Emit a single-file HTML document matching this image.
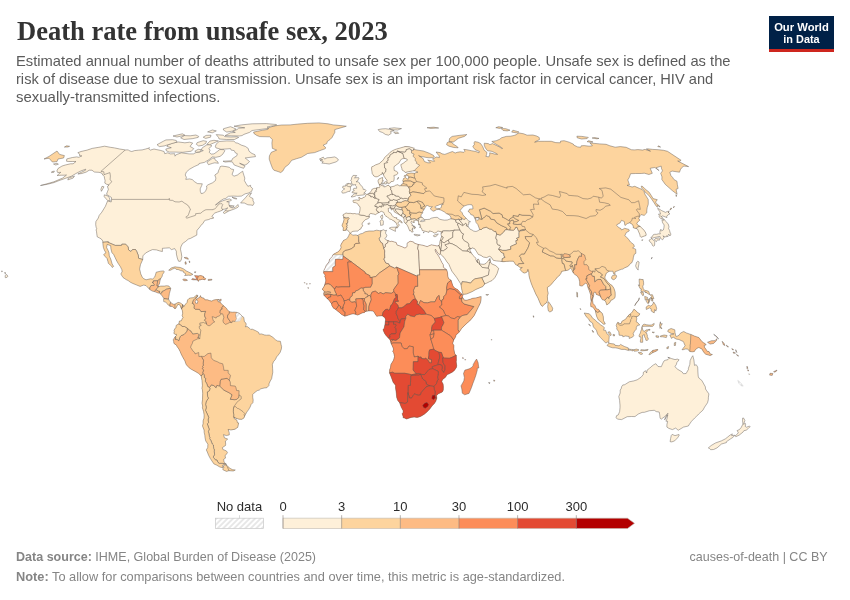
<!DOCTYPE html>
<html lang="en"><head><meta charset="utf-8"><title>Death rate from unsafe sex, 2023</title>
<style>
html,body{margin:0;padding:0;background:#fff;}
body{width:850px;height:600px;position:relative;overflow:hidden;font-family:"Liberation Sans",sans-serif;color:#5b5b5b;}
.title{position:absolute;left:16.5px;top:15.3px;font-family:"Liberation Serif",serif;font-weight:bold;font-size:27px;line-height:32px;color:#333;white-space:nowrap;transform-origin:0 50%;}
.sub{position:absolute;left:16px;top:52px;font-size:15px;line-height:18px;color:#5b5b5b;white-space:nowrap;}
.sub span{display:table;transform-origin:0 50%;}
.logo{position:absolute;left:769px;top:16px;width:65px;height:33px;background:#002147;border-bottom:3px solid #ce261e;color:#fff;font-weight:bold;font-size:11.5px;line-height:12px;}
.logo span{position:absolute;left:0;width:65px;text-align:center;white-space:nowrap;}
.foot{position:absolute;left:16px;font-size:13px;line-height:16px;color:#858585;white-space:nowrap;transform-origin:0 50%;}
.foot b{color:#858585;font-weight:bold;}
.right{position:absolute;right:22px;top:548.6px;font-size:13px;line-height:16px;color:#858585;white-space:nowrap;transform-origin:100% 50%;}
svg{position:absolute;left:0;top:0;}
</style></head><body>
<div class="title" id="title" style="transform:scaleX(0.982)">Death rate from unsafe sex, 2023</div>
<div class="sub"><span id="s1" style="transform:scaleX(0.9827)">Estimated annual number of deaths attributed to unsafe sex per 100,000 people. Unsafe sex is defined as the</span><span id="s2" style="transform:scaleX(0.9758)">risk of disease due to sexual transmission. Unsafe sex is an important risk factor in cervical cancer, HIV and</span><span id="s3" style="transform:scaleX(0.997)">sexually-transmitted infections.</span></div>
<div class="logo"><span style="top:4.7px;transform:scaleX(0.977)">Our World</span><span style="top:17.1px;transform:scaleX(0.947)">in Data</span></div>
<svg width="850" height="600" viewBox="0 0 850 600">
<defs>
<pattern id="hatch" width="3.9" height="3.9" patternUnits="userSpaceOnUse" patternTransform="rotate(-45)"><rect width="3.9" height="3.9" fill="#fff"/><line x1="0" y1="1" x2="3.9" y2="1" stroke="#dcdcdc" stroke-width="1.3"/></pattern>
<clipPath id="c_am"><path d="M125.3 149.9L119.7 149.0L114.5 147.9L110.4 147.3L104.6 146.2L98.8 147.3L92.2 148.4L87.1 150.1L81.0 151.5L77.8 152.7L79.7 154.1L79.5 155.5L81.9 155.9L78.8 157.3L76.8 156.9L72.4 157.5L66.8 158.9L66.5 161.2L68.2 161.5L72.5 161.5L76.0 161.5L73.1 163.8L70.4 163.8L65.3 165.0L61.9 166.1L58.0 168.5L56.9 170.9L57.7 172.6L60.8 172.3L57.1 175.5L61.2 175.2L64.0 175.2L66.5 175.0L62.6 178.1L53.8 181.8L46.9 183.8L40.5 185.5L47.3 184.3L54.0 182.6L59.0 180.6L65.2 178.4L71.4 176.2L75.4 173.8L81.0 170.9L85.7 169.2L85.5 170.2L77.9 174.0L81.8 173.5L86.2 172.1L89.2 170.2L92.0 170.2L93.5 171.4L94.6 172.1L99.0 172.3L101.6 173.0L102.8 175.0L104.2 176.4L104.5 178.1L105.1 180.6L104.8 183.1L106.7 184.3L108.8 184.8L107.5 186.8L108.4 189.3L107.4 191.8L106.5 194.3L109.2 196.1L111.4 197.4L111.6 199.4L111.2 202.0L107.6 200.9L105.4 206.3L101.8 212.2L99.2 215.4L98.3 218.0L95.9 221.6L95.7 224.5L96.1 227.3L96.7 228.4L96.1 230.0L96.5 231.5L96.8 233.9L97.2 236.8L99.7 238.1L101.2 238.9L102.8 241.0L102.8 242.3L103.0 244.9L103.4 247.5L104.4 250.2L105.9 252.8L103.6 254.6L105.3 256.7L107.1 258.6L108.1 262.0L108.3 263.3L111.6 266.2L112.3 267.5L113.6 266.4L112.1 263.8L110.8 259.3L109.3 255.9L109.0 252.8L108.0 250.2L106.6 247.5L107.2 244.4L110.7 245.7L110.9 248.8L112.0 252.8L113.6 254.4L115.2 257.8L116.7 260.9L118.4 263.8L120.4 266.7L121.9 269.8L122.1 271.7L120.8 274.0L123.0 277.5L126.1 279.6L128.2 280.6L130.3 282.2L132.7 283.4L136.8 285.1L140.1 286.4L143.7 285.1L146.0 285.6L149.7 289.5L152.3 291.1L154.5 291.6L157.9 292.9L159.7 293.2L160.6 294.0L162.3 296.1L163.9 298.5L163.6 300.3L163.7 301.6L165.8 302.1L168.2 305.0L170.0 306.3L172.5 306.6L174.3 308.4L175.7 308.4L176.7 306.6L178.0 304.2L180.2 305.3L180.8 307.6L181.5 308.7L182.8 304.8L180.3 302.9L178.1 302.4L174.9 304.2L173.3 304.2L171.7 303.4L170.9 302.4L169.1 300.3L168.5 298.9L169.0 296.1L169.4 293.5L170.4 290.1L170.7 288.2L169.0 286.1L166.7 285.7L164.3 286.1L160.9 286.1L159.2 286.4L157.7 285.9L159.3 284.3L159.8 281.7L160.4 279.0L162.1 276.4L162.5 274.6L164.3 271.9L163.7 270.9L160.5 271.2L156.2 272.2L155.4 275.1L154.6 277.2L152.6 279.0L150.3 278.8L146.0 279.8L143.5 278.5L142.3 277.2L140.7 273.8L140.2 271.2L139.6 269.1L140.5 264.6L142.7 259.5L142.9 255.9L145.6 253.0L149.5 250.9L152.5 249.6L156.5 249.9L159.6 250.9L162.4 251.5L162.4 248.3L165.8 248.1L169.3 247.8L171.5 249.6L174.7 248.6L176.3 251.2L176.4 254.1L177.3 258.0L178.5 261.2L180.3 261.4L181.2 259.9L181.8 256.7L181.3 253.0L180.5 249.4L180.8 247.0L182.5 243.6L185.5 241.5L188.3 239.1L190.7 238.3L194.0 236.5L196.8 235.1L196.9 230.7L197.3 230.0L200.0 226.8L200.8 225.4L203.1 223.4L204.0 221.3L205.4 220.3L208.9 219.5L210.4 218.7L212.2 218.5L213.5 218.2L213.4 217.3L212.4 217.2L212.0 216.4L213.2 214.6L214.8 213.0L217.6 212.0L220.0 211.2L222.4 210.2L222.7 209.4L224.8 209.1L227.8 207.9L224.8 210.7L223.3 212.8L224.5 213.5L228.4 211.2L229.6 210.7L234.2 209.1L235.4 208.6L237.9 207.3L238.5 206.6L237.9 204.5L234.9 207.6L232.1 207.9L229.7 206.8L228.9 204.3L229.2 202.2L226.7 201.7L230.6 200.9L231.6 199.9L229.3 198.9L226.0 199.7L222.5 200.9L219.5 202.2L217.3 204.0L215.4 205.0L219.8 201.4L223.1 199.1L225.8 198.4L228.4 196.3L233.4 196.1L237.7 196.3L241.4 196.1L245.2 193.8L248.3 193.1L251.7 191.3L252.6 188.5L250.7 186.8L250.6 185.3L247.9 186.3L246.1 183.6L244.4 180.6L244.8 178.1L244.0 175.7L243.1 172.8L242.7 171.2L240.3 172.8L237.4 175.0L234.0 176.2L232.0 174.5L233.4 170.9L233.6 169.5L231.1 169.0L229.3 167.3L226.0 166.6L221.8 166.1L220.2 166.6L219.6 168.5L218.4 170.9L218.2 172.6L214.8 175.0L215.9 178.1L215.4 180.6L212.5 182.8L208.0 184.8L206.5 186.0L206.9 188.0L205.6 191.0L203.5 193.1L201.2 193.6L200.3 191.3L200.2 188.8L201.7 185.5L202.3 183.8L197.5 183.6L194.7 181.8L192.3 179.6L189.7 178.9L185.8 179.4L186.4 177.2L185.2 175.0L186.3 172.1L189.6 169.2L194.2 166.6L198.9 164.5L199.1 163.5L204.4 162.4L209.0 159.6L212.3 156.9L215.9 157.3L220.0 156.4L222.6 154.4L224.9 150.8L223.9 149.7L219.8 149.5L217.7 151.2L214.0 153.9L211.2 154.1L209.2 152.3L210.1 150.1L208.8 148.6L211.9 145.8L209.7 144.7L206.8 144.9L202.4 147.7L201.0 149.9L203.3 150.6L199.5 152.1L196.4 152.3L193.4 153.9L189.1 153.9L186.0 153.5L181.5 152.8L176.4 154.6L175.0 156.2L174.7 153.7L170.2 153.9L167.8 152.8L164.7 153.7L164.1 151.5L160.2 150.3L156.1 149.5L154.0 149.0L150.3 150.1L148.7 148.6L149.6 147.8L145.7 149.0L142.1 149.9L138.4 150.2L134.6 150.6L131.8 151.5L129.3 150.8L128.5 149.9Z"/><path d="M182.8 304.8L183.9 306.6L185.6 304.0L187.1 302.4L187.5 300.0L189.0 298.5L190.6 297.9L193.4 297.7L195.3 296.4L196.6 294.9L197.9 295.6L197.4 296.9L195.9 298.2L196.5 299.5L197.0 299.0L198.5 297.9L199.9 297.1L200.5 295.6L201.1 297.4L204.0 298.2L204.9 299.8L207.4 299.8L209.5 300.6L211.8 301.1L213.7 300.0L216.5 299.5L219.0 299.5L217.3 300.6L218.0 301.6L220.5 302.4L221.4 304.0L223.2 305.3L223.6 305.8L226.6 308.4L227.2 309.7L229.5 311.8L232.3 312.2L234.4 312.1L236.9 312.4L239.2 313.2L240.8 314.7L242.2 316.3L243.8 317.4L244.4 321.8L246.0 323.1L246.2 325.0L245.3 326.8L247.2 326.5L249.7 328.4L250.7 329.4L252.3 329.2L255.3 330.5L258.6 332.3L259.3 334.2L261.4 333.9L264.7 335.0L266.3 335.2L269.3 335.1L272.9 337.3L275.7 339.9L277.6 341.0L280.4 341.3L281.1 344.7L281.6 346.5L281.4 348.9L280.1 352.5L278.1 355.2L276.5 357.0L275.7 359.1L273.5 361.7L272.4 364.4L272.6 368.3L272.8 372.2L272.3 374.9L271.6 378.8L270.3 380.9L268.9 384.0L269.0 385.4L266.9 387.7L264.2 388.0L260.8 388.8L259.3 390.1L257.3 390.6L253.9 393.2L252.7 394.5L252.7 397.2L253.2 400.1L252.9 402.7L251.1 404.5L250.1 407.1L248.5 409.8L246.8 412.1L244.6 416.2L244.0 417.9L241.9 419.3L239.0 419.2L235.3 418.0L233.7 416.9L234.0 418.4L237.0 420.3L237.3 422.6L238.6 422.9L237.8 427.3L235.0 429.2L230.9 430.0L228.1 429.4L229.2 432.6L229.3 434.9L226.3 435.6L223.5 434.6L224.4 437.8L227.7 439.1L226.6 440.1L225.4 441.1L225.7 444.2L225.5 445.5L222.4 447.6L222.8 449.4L226.4 450.9L227.5 452.7L225.1 455.8L225.5 458.1L223.6 459.4L224.2 462.4L226.6 464.3L224.4 464.4L222.3 465.4L223.2 467.9L219.6 466.9L216.8 465.2L213.9 463.9L211.9 460.9L210.2 458.3L208.6 455.3L207.3 452.0L206.3 449.9L207.7 447.6L207.9 444.2L205.7 440.9L205.0 437.5L204.8 435.2L204.2 432.6L204.1 430.0L202.7 426.6L202.6 425.2L203.1 423.9L203.1 420.8L204.0 418.2L204.1 415.5L204.0 414.2L203.6 411.6L202.4 407.7L202.7 406.1L202.0 403.2L202.5 399.8L202.6 395.9L202.7 393.2L202.4 389.6L201.9 389.0L202.4 385.4L202.0 380.6L201.2 375.9L198.4 373.3L195.2 371.4L191.3 369.3L189.1 367.8L186.5 364.9L186.0 364.1L184.8 360.7L183.9 359.2L182.4 356.5L181.1 353.9L180.1 351.5L178.8 348.9L177.0 346.5L176.5 345.2L173.9 343.4L173.6 341.3L173.2 339.9L174.0 338.4L175.1 336.8L176.4 335.5L176.4 334.2L175.5 334.4L173.8 333.4L174.3 331.5L174.0 330.4L174.9 328.7L175.9 327.6L176.1 325.5L176.8 325.0L178.9 323.8L179.4 321.0L181.3 320.8L182.5 318.1L183.1 317.4L182.1 315.8L182.7 313.2L182.3 310.5L181.5 308.7Z"/></clipPath><clipPath id="c_af"><path d="M349.6 233.6L350.9 233.4L352.6 235.2L355.9 234.9L357.7 235.5L360.3 233.9L362.5 233.4L365.1 231.8L369.1 231.0L373.4 231.0L376.7 230.2L379.5 230.7L381.2 230.6L383.8 229.7L384.9 230.7L386.6 230.3L385.6 232.1L385.7 233.6L386.9 235.2L386.3 237.0L384.8 238.6L387.1 240.4L388.1 240.6L390.2 241.5L391.7 241.2L396.2 242.5L397.0 244.9L401.5 246.5L405.0 248.1L407.1 246.5L407.0 243.3L410.1 241.2L413.7 242.0L414.2 243.1L418.4 244.5L422.6 245.2L427.2 246.6L429.1 245.7L431.5 244.8L434.4 245.4L437.2 246.0L438.8 245.4L440.7 250.2L440.3 253.6L439.6 254.8L438.0 253.3L436.8 251.5L435.4 249.1L435.1 250.2L435.9 252.3L437.2 254.1L438.7 256.2L440.3 259.3L441.9 262.5L443.4 264.9L443.3 267.2L446.7 269.8L447.5 272.5L447.8 276.1L448.5 278.5L451.1 280.3L452.8 285.6L453.4 286.6L454.8 288.2L457.6 289.5L460.5 292.9L462.2 294.3L462.8 295.2L462.7 296.2L461.6 297.3L462.7 297.5L464.5 300.2L466.8 300.2L470.3 299.2L472.6 298.3L476.0 297.9L479.0 297.1L481.2 296.5L481.0 300.0L480.4 302.9L478.6 306.6L476.9 310.0L474.2 315.5L471.9 318.4L469.6 321.0L468.1 322.2L465.0 325.0L461.6 328.5L459.3 331.9L457.8 333.6L456.1 334.7L455.9 336.0L454.9 338.2L453.7 339.9L452.7 343.4L453.9 345.5L453.8 348.6L454.2 351.0L454.8 353.9L456.3 355.2L456.4 360.4L456.2 361.7L456.7 365.7L456.4 367.5L454.4 370.4L452.2 372.2L448.7 374.1L447.2 374.6L445.5 377.2L442.4 379.7L441.8 381.7L443.1 384.0L443.4 386.7L443.3 390.1L442.4 391.9L438.4 393.8L436.5 395.6L436.8 398.1L435.9 401.1L434.6 403.2L432.0 406.0L429.8 409.0L426.9 412.1L424.3 414.2L421.0 416.2L419.2 416.9L417.1 417.4L414.1 417.1L411.2 417.4L406.5 419.0L404.0 417.8L403.1 417.8L403.1 416.6L402.2 413.7L403.1 412.4L403.2 410.8L401.2 407.1L399.6 402.7L397.8 400.6L396.7 397.6L396.3 393.2L395.5 387.8L395.6 385.4L393.1 382.2L391.2 377.0L389.5 372.9L389.7 369.6L390.5 367.5L390.9 364.4L393.5 360.2L394.5 356.5L393.6 352.5L392.7 351.5L393.1 350.7L393.6 349.1L392.3 346.0L391.1 343.6L390.9 342.7L390.4 340.7L390.0 339.7L388.3 338.0L385.8 335.2L384.6 333.4L383.5 331.0L383.0 329.4L384.2 328.4L384.5 326.5L384.9 325.0L385.3 321.6L385.6 319.7L384.7 317.4L383.4 316.8L382.3 315.7L380.0 315.9L378.8 316.0L376.7 316.3L375.1 313.9L374.1 312.1L373.0 311.1L370.4 310.8L368.8 310.9L366.3 311.2L365.3 311.6L364.6 312.4L362.0 313.0L360.2 313.9L357.6 315.1L355.3 314.2L353.2 313.8L350.9 314.2L348.5 315.1L344.9 316.2L341.6 314.5L339.1 312.2L337.4 311.1L335.8 309.4L333.5 308.2L331.8 305.4L331.6 303.8L330.7 302.7L328.9 300.0L327.5 298.9L326.1 297.4L323.9 295.2L323.7 293.2L324.3 291.9L323.7 290.8L322.1 289.0L322.9 288.5L324.5 285.5L325.6 281.7L325.8 280.1L325.4 277.7L324.7 276.7L325.2 275.1L323.5 273.0L323.9 270.4L325.4 267.5L326.2 265.4L328.9 262.0L329.7 259.1L332.3 256.5L332.8 255.0L333.5 254.2L337.6 252.1L339.6 250.4L341.1 247.8L340.7 245.2L342.0 242.8L343.7 240.3L345.7 239.4L347.4 238.2L348.7 235.7Z"/></clipPath><clipPath id="c_eu"><path d="M438.8 245.4L439.3 244.8L439.7 243.5L439.9 241.5L440.2 240.7L440.8 238.6L441.6 236.6L441.0 234.4L441.0 233.2L441.5 231.5L440.0 231.5L437.9 231.0L436.0 232.7L434.2 233.1L432.3 231.7L429.4 230.9L428.9 232.4L426.0 231.4L424.0 231.0L422.2 230.5L421.5 228.1L419.4 227.1L420.7 226.7L420.0 224.5L418.7 223.9L418.6 222.8L418.2 220.8L416.1 220.2L414.7 220.3L413.4 221.1L414.7 222.2L413.9 221.9L413.4 222.8L412.6 222.0L411.5 221.1L411.0 222.6L412.3 224.5L411.9 225.2L412.9 226.2L414.6 227.3L414.7 228.8L413.7 228.0L412.4 228.1L412.9 229.4L411.9 229.0L413.2 231.9L411.6 232.1L410.6 230.5L409.8 231.0L408.8 228.8L408.2 227.1L407.3 225.4L406.0 223.6L405.5 223.4L404.1 221.7L404.0 219.3L403.7 217.8L401.7 216.3L399.7 215.1L397.2 213.5L394.4 212.0L393.6 209.7L392.6 208.9L391.6 210.2L390.8 208.4L391.1 208.0L389.7 207.9L388.1 208.6L388.4 209.9L388.4 211.7L390.9 213.3L392.1 215.6L393.7 217.2L395.0 217.7L396.9 217.7L396.4 218.7L398.6 219.8L401.0 220.9L402.2 222.4L401.9 223.2L400.9 222.0L399.3 221.5L398.1 222.4L398.1 223.7L399.5 225.2L398.3 226.0L397.4 228.0L396.4 228.0L396.4 227.3L397.3 225.8L396.5 223.9L396.0 222.5L394.6 221.9L394.2 220.9L393.0 220.6L391.5 219.5L389.4 218.9L388.5 218.1L387.1 216.7L385.8 216.1L384.7 215.0L384.2 213.5L383.7 212.2L383.1 212.1L381.2 211.2L379.5 212.5L378.3 212.8L377.2 213.4L375.6 214.6L373.8 214.1L372.2 213.8L370.9 213.4L369.5 214.2L369.0 216.0L369.5 216.7L369.1 217.8L367.2 219.0L365.1 219.8L364.2 220.8L362.5 222.8L361.9 224.1L362.9 225.9L361.4 227.1L361.0 228.8L359.0 229.7L357.9 231.1L356.0 231.1L352.9 231.3L350.8 232.7L350.3 233.1L348.8 231.7L347.5 230.0L346.4 230.0L345.3 230.5L343.0 230.5L343.4 227.9L342.6 226.7L342.0 225.9L342.4 224.3L343.4 222.1L344.0 219.6L343.7 217.7L343.6 216.4L342.8 215.1L343.5 214.3L344.8 213.8L346.0 212.9L347.8 213.4L350.5 213.3L353.0 213.8L354.5 213.5L356.2 213.9L358.7 213.9L359.3 213.4L359.9 210.6L360.1 208.4L360.0 206.7L358.8 205.8L358.1 204.3L356.7 203.2L355.5 202.7L353.6 202.5L352.8 200.9L353.3 200.3L354.5 200.2L356.4 199.9L358.4 200.3L359.3 200.3L359.2 198.9L358.6 197.6L359.9 197.6L360.3 198.5L362.1 198.6L362.7 198.1L362.9 197.6L364.7 197.0L365.6 196.3L365.7 195.0L366.2 194.4L367.6 194.1L369.2 193.4L370.5 191.9L371.5 190.7L371.9 189.4L373.2 188.8L374.7 188.3L376.3 188.4L376.7 188.7L376.5 187.8L378.2 187.5L379.2 187.9L379.6 187.0L379.9 186.5L379.3 184.5L378.6 183.1L378.1 181.8L378.1 180.5L378.9 179.1L381.4 177.9L382.6 177.5L382.6 179.4L382.3 180.4L383.5 180.8L382.2 181.5L381.8 182.6L381.3 183.1L380.9 184.7L382.0 185.7L384.2 185.8L383.8 186.9L385.1 186.8L386.2 186.3L386.9 185.7L388.6 185.2L389.5 186.5L390.5 187.0L394.2 186.2L395.7 185.2L398.1 184.7L399.0 185.9L400.8 185.7L401.4 184.4L403.1 183.6L403.2 182.6L403.1 181.7L402.8 180.6L403.3 179.4L403.6 178.4L405.4 177.5L406.7 178.5L408.2 179.4L408.7 177.3L408.8 176.1L406.8 175.5L406.5 174.0L408.8 173.4L411.1 173.0L414.9 173.4L415.6 172.6L418.0 172.2L416.4 171.6L415.3 170.9L414.0 170.8L412.3 171.0L408.9 171.6L405.4 172.4L403.8 171.1L402.0 169.9L401.9 168.5L401.2 166.4L400.8 164.7L403.2 163.3L405.2 161.7L407.4 160.2L407.0 159.1L405.7 158.7L404.9 158.5L403.1 158.6L401.5 159.0L400.6 160.3L400.1 161.0L398.9 163.1L396.8 164.5L395.1 165.9L394.1 166.5L394.0 168.0L394.2 170.4L396.6 171.4L397.7 172.3L397.9 173.5L396.2 174.9L393.9 175.5L394.2 177.5L394.0 180.2L393.4 181.3L392.6 181.5L391.0 181.6L390.2 182.9L389.4 183.3L387.6 183.3L387.4 182.9L387.0 181.7L386.5 181.1L387.2 180.2L385.9 179.1L385.1 177.7L383.9 176.1L383.6 174.7L383.4 174.3L382.4 173.8L382.4 172.3L382.0 173.8L381.7 174.4L380.5 174.7L379.1 175.8L377.6 176.6L375.9 176.9L373.8 176.0L373.0 174.7L372.2 173.5L372.0 171.8L371.8 170.6L371.6 169.5L371.6 167.8L371.8 166.8L373.6 166.1L375.3 165.0L378.0 164.0L379.7 163.4L380.7 162.1L382.1 161.2L383.8 159.1L384.7 157.5L385.5 156.6L387.4 155.0L389.1 153.5L389.8 152.6L392.1 150.9L394.4 149.8L396.8 148.9L399.2 148.3L401.9 147.5L405.1 146.6L408.1 146.7L409.1 146.7L411.8 147.5L414.4 148.3L413.0 149.6L414.3 149.5L418.1 150.2L423.4 151.0L429.2 153.2L433.4 155.3L434.4 156.9L432.4 157.7L429.0 157.8L425.3 157.3L422.5 156.6L419.9 156.4L418.6 155.5L420.9 157.1L423.1 158.5L424.4 161.5L427.9 162.8L430.5 162.8L429.5 161.7L427.7 160.1L430.8 160.6L433.2 161.2L434.5 161.3L433.4 159.6L432.5 158.9L435.1 157.8L436.1 157.0L439.4 157.5L439.2 155.9L438.0 154.6L436.1 152.0L440.1 152.6L442.0 153.8L444.8 154.4L446.1 153.9L449.2 152.7L452.4 151.5L455.2 153.0L457.1 152.3L460.2 151.8L463.9 152.3L465.0 151.2L463.8 149.4L466.7 149.7L471.4 150.7L475.8 151.5L479.0 152.8L479.4 151.5L475.1 149.7L473.4 147.5L472.8 146.2L474.4 144.7L474.0 142.9L474.7 141.6L478.0 142.2L480.5 143.4L482.6 146.4L484.1 150.1L486.9 152.3L486.6 154.6L485.9 156.4L488.8 156.9L489.7 154.6L489.7 152.8L494.9 154.1L497.6 154.4L494.7 152.6L491.2 151.2L487.6 150.8L485.3 147.9L484.2 145.1L484.3 143.2L488.3 143.6L489.9 144.7L492.4 143.6L496.2 145.3L500.1 147.3L501.6 148.6L502.6 148.4L500.6 146.9L497.6 145.1L491.8 141.5L496.3 140.7L499.8 139.2L501.5 137.8L506.2 136.4L510.6 136.2L514.3 135.4L516.4 134.6L517.9 133.4L519.3 133.0L523.7 133.8L527.1 135.2L532.9 135.0L536.6 136.0L539.2 137.4L539.5 139.5L537.5 140.5L534.6 142.2L538.5 141.3L544.1 141.3L544.9 141.3L551.3 141.3L555.7 142.6L560.3 142.8L560.6 141.1L564.1 140.7L569.2 142.2L573.3 144.1L573.8 145.1L577.6 146.9L580.6 147.3L581.2 145.8L584.2 145.6L589.1 146.2L592.4 145.8L589.9 142.9L592.4 143.2L599.8 143.9L606.1 144.3L609.9 145.8L615.2 147.2L620.3 146.6L626.2 147.3L631.3 149.7L634.2 149.9L635.7 149.8L637.9 149.6L642.9 150.1L644.1 149.5L645.3 149.5L650.5 151.2L646.3 149.0L647.6 148.8L652.7 149.4L658.2 149.7L663.5 150.3L667.5 151.3L681.1 160.3L679.8 161.2L677.7 161.0L688.6 166.6L683.9 166.1L681.6 167.8L680.4 169.7L679.5 172.2L672.1 171.1L669.8 172.3L671.0 175.7L672.6 177.4L673.8 179.4L677.0 181.3L677.3 184.3L678.1 188.5L676.1 189.3L677.1 194.3L672.2 190.5L665.2 184.3L661.8 179.4L662.0 176.9L660.7 173.3L662.5 170.9L661.5 168.5L661.2 166.1L656.0 167.8L659.1 170.6L654.8 167.5L650.2 168.3L652.3 173.3L648.9 174.5L644.3 173.2L641.3 173.5L635.7 173.5L630.6 173.7L629.3 177.4L627.8 179.9L628.9 183.1L629.5 184.8L627.0 185.3L632.1 187.0L634.7 186.3L639.7 188.5L641.9 189.3L643.9 191.3L645.0 194.3L646.6 196.9L648.2 199.4L648.3 203.2L648.2 204.5L647.2 207.6L646.8 210.2L646.8 212.8L644.2 215.4L641.0 214.6L639.9 215.9L639.7 216.7L638.7 218.2L639.7 220.3L638.9 220.8L636.8 223.2L637.4 224.7L640.0 226.3L644.3 230.5L645.8 233.0L646.2 234.9L646.0 235.5L643.9 236.2L641.0 237.3L640.2 236.4L639.7 234.1L638.4 231.3L637.7 229.3L636.2 228.5L634.1 228.1L633.2 227.6L633.3 226.0L631.8 223.9L629.7 222.8L627.2 223.7L625.0 225.5L624.6 224.2L624.4 221.6L621.5 220.3L620.1 222.9L616.9 224.7L616.6 225.4L618.9 227.6L620.9 228.6L621.5 230.0L623.8 228.8L624.6 228.3L628.8 229.4L629.3 230.9L626.3 232.6L624.8 235.7L627.8 238.3L630.5 242.0L633.7 244.5L634.4 246.5L632.6 247.9L635.7 249.2L635.9 253.3L634.2 254.4L633.3 257.8L633.1 259.6L631.8 262.8L630.6 263.4L628.6 265.9L628.0 266.4L624.4 268.0L622.8 269.1L621.3 269.3L618.1 270.6L614.9 271.9L615.0 274.3L613.6 273.8L612.9 271.2L611.6 271.3L609.3 271.2L606.4 273.0L605.1 276.4L604.9 278.2L607.5 281.7L610.2 284.3L611.9 285.3L613.9 288.2L615.1 291.9L615.2 295.3L615.0 297.7L612.8 299.5L610.8 300.4L609.8 302.7L606.8 305.0L605.8 301.9L604.7 300.3L602.4 299.8L601.1 297.7L600.8 297.0L599.3 295.6L596.2 294.4L595.7 292.4L594.8 292.2L593.7 292.7L593.8 294.8L592.5 300.0L593.0 303.4L594.9 305.5L596.3 308.7L598.7 309.5L599.9 311.2L602.3 313.4L603.3 316.6L603.5 320.5L605.3 323.9L603.6 324.2L600.8 321.8L598.4 320.0L596.7 316.6L595.9 313.4L595.4 310.8L594.0 308.7L592.5 306.9L590.8 306.6L590.6 304.0L591.1 301.5L590.6 297.4L590.7 295.0L589.3 290.8L588.0 287.7L587.1 284.3L585.8 283.0L584.2 284.3L582.1 286.1L579.7 285.6L579.7 281.7L578.8 278.5L576.8 275.6L575.1 274.7L573.4 273.0L572.5 271.4L571.7 269.1L570.5 268.3L569.2 269.1L568.5 270.1L565.8 270.6L563.8 270.9L561.6 271.4L561.1 273.1L559.4 275.6L557.5 276.9L555.5 279.6L553.9 281.1L551.9 283.8L549.6 285.9L547.4 287.4L547.5 290.3L548.2 293.2L547.4 296.4L547.6 300.6L546.1 303.2L544.0 304.5L542.6 306.4L541.1 305.3L539.4 301.5L538.0 298.1L535.6 293.7L533.5 288.7L532.6 286.9L531.1 283.0L529.5 277.9L528.9 275.1L528.8 272.2L527.9 269.3L527.2 271.9L524.8 273.1L522.9 272.5L519.8 269.3L522.3 267.5L520.3 267.7L519.1 266.7L517.6 265.6L515.6 264.6L514.3 262.5L513.4 261.2L509.8 261.2L506.4 261.4L503.7 261.7L502.1 261.6L499.8 261.2L496.1 260.9L493.3 260.3L491.2 257.2L489.5 256.3L486.7 257.6L483.2 257.0L481.0 255.4L478.4 254.5L476.6 251.7L474.8 248.8L472.0 247.8L471.1 249.0L469.8 248.8L470.0 250.4L471.2 252.7L472.7 255.1L474.4 256.7L475.9 258.3L475.8 259.6L477.7 262.6L477.4 260.7L477.8 259.1L478.4 259.0L479.4 261.2L479.6 263.0L479.7 263.9L482.0 264.2L484.0 264.3L486.0 263.4L487.8 261.3L489.4 259.2L490.0 258.4L490.4 262.0L491.5 263.8L495.7 265.6L498.7 268.4L497.0 273.8L494.8 277.7L492.0 280.6L489.4 281.7L486.9 283.0L484.7 283.9L482.8 286.6L480.1 287.7L475.8 289.5L472.3 291.6L466.6 294.0L463.1 294.4L462.5 292.7L461.6 288.7L461.0 284.7L460.3 283.2L456.7 277.5L451.9 271.2L450.1 267.2L448.9 264.3L446.8 261.7L444.9 258.7L442.6 255.9L440.3 254.0L440.8 250.6L440.7 250.2Z"/></clipPath><clipPath id="c_hisp"><path d="M191.6 279.4L192.5 278.6L195.5 279.2L196.5 278.9L195.9 277.5L194.5 275.6L197.2 275.8L198.2 275.9L200.6 275.6L202.4 276.0L203.9 276.9L203.0 277.5L204.9 277.9L205.7 278.8L205.0 279.8L202.1 279.2L200.6 279.8L199.3 279.8L198.4 281.4L197.8 280.2L196.0 279.8L193.2 279.8Z"/></clipPath><clipPath id="c_tdf"><path d="M226.5 465.0L228.0 466.7L230.1 468.4L232.6 469.7L235.3 470.0L233.2 471.0L228.9 470.7L226.5 471.4L222.8 469.7L223.2 468.4L223.8 467.4L223.3 465.9L225.0 464.9Z"/></clipPath><clipPath id="c_irl"><path d="M349.9 191.4L350.6 189.4L350.5 188.4L350.3 186.8L351.8 185.8L351.4 185.0L350.7 183.8L348.1 183.4L346.4 183.9L345.5 185.2L345.9 186.0L342.9 186.2L342.6 187.8L344.7 188.9L343.7 189.4L342.9 190.4L341.7 191.5L342.1 192.8L342.9 193.2L345.5 192.7L347.4 191.8L348.8 191.4Z"/></clipPath><clipPath id="c_borneo"><path d="M617.9 322.2L619.6 323.4L621.1 323.7L621.9 321.3L625.6 319.2L627.8 316.0L629.2 314.7L631.2 313.2L632.4 311.8L633.9 309.2L635.2 310.0L636.2 311.1L637.2 312.2L639.9 313.9L638.5 315.9L636.9 316.6L636.2 316.7L636.8 318.7L636.2 321.8L637.4 322.3L639.8 325.0L637.4 325.5L636.3 327.6L636.3 329.2L634.6 331.0L633.2 333.6L633.8 335.5L632.6 337.1L629.2 338.5L629.1 336.5L625.6 336.0L622.8 336.8L622.6 335.5L619.1 335.2L618.8 331.8L616.7 328.9L616.9 327.6L616.2 325.5L617.1 323.1Z"/></clipPath><clipPath id="c_ng"><path d="M668.3 329.8L671.1 328.5L674.8 329.8L675.0 332.6L675.9 336.3L676.8 336.4L679.0 335.2L680.2 333.4L682.1 332.2L683.8 331.5L686.3 332.9L690.2 334.3L690.9 334.4L694.3 336.0L697.0 336.9L698.9 337.6L701.7 341.3L703.9 343.0L704.6 343.1L706.2 344.9L704.2 345.3L704.5 347.3L706.6 350.2L707.4 351.5L709.0 351.5L710.4 354.1L712.4 354.5L710.2 355.6L705.7 354.2L703.9 352.5L701.8 348.9L699.1 347.7L698.2 347.6L696.7 348.7L695.5 349.5L694.4 351.5L692.3 351.8L689.7 351.5L687.7 349.0L685.3 349.0L683.2 349.7L682.0 349.7L684.3 346.8L685.1 345.7L683.7 342.3L683.3 341.5L681.0 340.5L679.0 339.5L676.7 339.2L674.2 338.0L673.5 337.1L671.6 338.1L671.5 338.4L669.9 335.2L669.8 335.0L673.0 334.2L674.1 333.9L671.6 333.5L670.0 332.9L667.7 331.5Z"/></clipPath><clipPath id="c_timor"><path d="M648.9 354.6L650.5 352.3L652.9 350.3L657.4 349.5L658.1 349.8L656.1 351.2L652.5 352.8L650.0 354.6Z"/></clipPath>
</defs>
<g stroke="#5c5650" stroke-width="0.45" stroke-linejoin="round"><g clip-path="url(#c_am)"><path d="M20.0 100.0L330.0 100.0L330.0 260.0L20.0 260.0Z" fill="#fef0d9"/>
<path d="M125.3 149.9L100.9 171.4L103.9 171.8L104.0 174.7L109.9 172.6L110.4 176.0L110.1 179.4L111.7 181.8L108.8 184.8L99.6 196.9L-16.7 202.0L72.3 138.4L141.3 138.4Z" fill="#fef0d9"/>
<path d="M111.6 199.4L168.8 199.4L169.3 198.4L169.5 200.2L172.6 200.4L175.0 201.8L179.1 202.0L181.9 201.2L184.6 203.2L187.4 204.8L187.9 205.8L189.3 206.8L189.0 207.6L190.5 208.9L188.4 214.8L187.8 215.9L186.2 216.7L185.9 217.4L186.9 218.2L190.6 216.9L195.4 215.4L195.7 214.2L195.6 213.7L200.8 213.2L202.4 211.7L205.1 210.0L206.5 209.7L213.2 209.7L213.6 209.0L214.8 208.9L216.5 207.3L217.0 206.3L217.8 205.3L220.1 203.4L220.6 204.0L221.9 203.6L222.7 204.4L221.5 207.9L221.9 208.9L222.7 209.4L222.4 210.2L236.5 212.2L192.1 264.6L158.0 264.6L142.7 259.5L138.6 258.3L138.3 255.4L136.6 251.2L135.5 249.5L132.6 249.5L130.9 251.5L128.5 249.8L128.2 247.0L125.7 244.2L121.9 244.2L121.5 245.4L115.2 245.4L107.9 242.3L108.3 241.8L102.8 242.3L82.9 248.8L97.8 199.4Z" fill="#fef0d9"/>
<path d="M102.8 242.3L108.3 241.8L107.9 242.3L115.2 245.4L121.5 245.4L121.9 244.2L125.7 244.2L128.2 247.0L128.5 249.8L130.9 251.5L132.6 249.5L135.5 249.5L136.6 251.2L138.3 255.4L138.6 258.3L142.7 259.5L147.1 262.0L167.1 264.6L167.2 272.5L162.8 279.6L160.4 279.0L159.9 279.0L157.8 280.5L157.7 280.8L153.5 280.8L153.3 282.3L152.3 282.3L154.4 284.5L154.2 285.4L151.2 285.5L149.9 287.6L149.7 289.5L147.4 293.5L87.9 275.1L96.4 242.3Z" fill="#fdd49e"/>
<path d="M149.7 289.5L149.9 287.6L151.2 285.5L154.2 285.4L154.4 284.5L152.3 282.3L153.3 282.3L153.5 280.8L157.7 280.8L157.0 285.9L157.7 285.9L158.6 286.1L159.2 286.4L156.7 288.6L156.2 289.7L154.3 291.5L152.1 293.5L147.7 290.8Z" fill="#fdbb84"/>
<path d="M160.4 279.0L159.9 279.0L157.8 280.5L157.7 280.8L157.0 285.9L157.7 285.9L160.9 285.6L161.8 278.8Z" fill="#fdbb84"/>
<path d="M154.3 291.5L156.2 289.7L158.1 290.9L159.7 291.1L159.7 292.4L159.5 292.9L158.9 294.8L154.4 293.5Z" fill="#fdbb84"/>
<path d="M159.2 286.4L156.7 288.6L156.2 289.7L158.1 290.9L159.7 291.1L159.7 292.4L159.5 292.9L160.2 293.5L160.6 293.5L162.1 292.7L162.1 291.5L163.9 290.8L166.3 289.3L167.5 289.0L170.7 288.2L172.3 286.9L169.3 283.0L159.9 284.8Z" fill="#fdd49e"/>
<path d="M170.7 288.2L167.5 289.0L166.3 289.3L163.9 290.8L162.1 291.5L162.1 292.7L160.6 293.5L158.8 296.1L162.0 300.0L163.9 298.5L165.8 298.9L167.8 299.2L168.5 298.9L171.3 298.7L172.2 288.2Z" fill="#fdbb84"/>
<path d="M168.5 298.9L167.8 299.2L165.8 298.9L163.9 298.5L161.9 301.3L167.4 306.6L169.9 307.1L170.0 306.3L170.0 304.5L170.6 302.7L170.9 302.4L171.6 301.3L169.7 299.0Z" fill="#fdd49e"/>
<path d="M170.9 302.4L170.6 302.7L170.0 304.5L170.0 306.3L171.9 309.7L181.2 309.7L181.5 308.7L183.2 306.9L182.8 304.8L182.7 302.7L177.0 301.3L171.4 301.9Z" fill="#fdbb84"/>
<path d="M175.0 285.0L300.0 285.0L300.0 430.0L175.0 430.0Z" fill="#fdd49e"/>
<path d="M244.6 416.2L244.1 414.5L244.8 413.6L243.0 411.7L241.0 410.2L238.5 408.6L237.6 408.5L235.5 406.6L233.7 406.9L233.4 409.0L233.3 411.6L233.7 414.5L233.7 416.9L234.3 417.6L238.5 420.3L246.1 419.5Z" fill="#fdd49e"/>
<path d="M233.7 416.9L233.7 414.5L233.3 411.6L233.4 409.0L233.7 406.9L236.7 402.7L238.7 400.6L241.2 398.9L241.2 396.4L238.9 394.8L238.7 397.6L236.5 399.4L234.9 399.7L230.4 399.3L232.1 394.8L229.1 392.7L223.9 390.1L219.7 386.0L216.8 385.4L216.1 387.6L213.8 385.6L211.4 384.8L209.5 387.5L210.0 388.0L209.5 390.6L207.3 391.9L207.6 396.6L208.4 398.2L206.9 400.3L206.0 402.2L205.6 404.5L206.3 407.4L205.5 410.3L207.7 415.0L208.7 417.4L208.0 420.0L208.6 422.4L207.3 423.9L209.2 429.2L208.4 431.5L208.8 433.3L209.5 436.7L210.1 438.0L209.6 438.5L211.1 440.9L212.2 444.0L213.4 445.0L213.5 446.8L213.7 448.6L214.4 449.9L214.2 451.3L214.6 454.3L213.2 457.1L215.6 460.1L217.0 460.0L217.9 462.4L219.2 463.4L223.0 463.4L226.4 464.2L235.2 473.4L239.9 465.9L243.2 427.3L238.5 420.3L234.3 417.6Z" fill="#fdd49e"/>
<path d="M219.7 386.0L220.1 381.5L221.1 379.2L227.1 378.3L229.5 380.5L230.3 382.1L230.4 385.6L235.2 386.1L235.8 387.1L236.6 390.5L239.1 390.7L238.9 394.8L238.7 397.6L236.5 399.4L234.9 399.7L230.4 399.3L232.1 394.8L229.1 392.7L223.9 390.1L219.7 386.0Z" fill="#fdbb84"/>
<path d="M201.3 356.3L204.2 356.5L207.9 353.6L210.9 353.1L211.3 357.8L213.5 360.3L217.3 361.7L219.7 363.0L222.7 363.8L223.5 367.2L223.9 370.3L228.2 370.4L228.2 372.9L230.5 375.4L230.0 377.6L229.4 379.6L229.5 380.5L227.1 378.3L221.1 379.2L220.1 381.5L219.7 386.0L216.8 385.4L216.1 387.6L213.8 385.6L211.4 384.8L209.5 387.5L207.8 386.7L206.8 383.8L205.3 381.2L205.7 378.5L204.3 377.5L204.2 374.9L202.9 373.5L202.5 373.0L203.6 370.1L202.1 368.6L203.1 367.8L202.5 366.5L203.4 365.1L203.1 363.6L203.5 360.4L201.3 356.3Z" fill="#fdbb84"/>
<path d="M202.9 373.5L204.2 374.9L204.3 377.5L205.7 378.5L205.3 381.2L206.8 383.8L207.8 386.7L209.5 387.5L210.0 388.0L209.5 390.6L207.3 391.9L207.6 396.6L208.4 398.2L206.9 400.3L206.0 402.2L205.6 404.5L206.3 407.4L205.5 410.3L207.7 415.0L208.7 417.4L208.0 420.0L208.6 422.4L207.3 423.9L209.2 429.2L208.4 431.5L208.8 433.3L209.5 436.7L210.1 438.0L209.6 438.5L211.1 440.9L212.2 444.0L213.4 445.0L213.5 446.8L213.7 448.6L214.4 449.9L214.2 451.3L214.6 454.3L213.2 457.1L215.6 460.1L217.0 460.0L217.9 462.4L219.2 463.4L223.0 463.4L226.4 464.2L228.6 467.2L227.5 473.4L209.5 468.4L188.0 406.4L197.2 374.9L200.9 375.8L202.1 375.1L202.9 373.5Z" fill="#fdd49e"/>
<path d="M199.7 338.6L197.7 338.8L192.9 341.1L192.3 343.5L191.1 345.7L190.6 347.3L193.1 351.2L194.7 352.5L195.0 353.9L198.7 352.5L198.9 356.5L201.3 356.3L203.5 360.4L203.1 363.6L203.4 365.1L202.5 366.5L203.1 367.8L202.1 368.6L203.6 370.1L202.5 373.0L202.9 373.5L202.1 375.1L200.9 375.8L197.4 377.5L178.0 367.0L167.1 340.7L171.5 335.5L175.5 336.5L175.8 337.8L175.3 339.3L177.2 339.4L178.7 340.7L180.0 336.8L181.3 335.5L184.1 334.4L186.5 331.7L187.2 330.1L187.2 327.9L189.4 330.2L190.9 330.9L192.7 333.9L197.4 333.4L199.4 334.7L197.9 337.6L198.8 337.6L199.7 338.6Z" fill="#fdbb84"/>
<path d="M175.5 336.5L175.8 337.8L175.3 339.3L177.2 339.4L178.7 340.7L180.0 336.8L181.3 335.5L184.1 334.4L186.5 331.7L187.2 330.1L187.2 327.9L186.4 327.5L184.7 326.5L182.2 326.5L181.5 325.4L178.9 323.8L173.8 322.3L169.1 330.2L171.6 338.1Z" fill="#fdd49e"/>
<path d="M197.3 296.5L195.0 298.5L193.5 300.2L192.3 303.4L193.5 303.7L194.4 305.7L194.1 308.2L195.4 309.2L199.6 309.4L201.0 311.6L205.7 311.3L204.8 313.7L204.6 315.8L205.8 318.7L204.5 320.1L206.0 321.6L206.7 324.4L206.2 323.1L204.3 323.0L203.6 322.5L199.8 323.1L199.8 324.8L201.3 325.0L200.7 325.8L199.3 326.2L199.3 328.1L200.8 330.2L199.7 338.6L198.8 337.6L197.9 337.6L199.4 334.7L197.4 333.4L192.7 333.9L190.9 330.9L189.4 330.2L187.2 327.9L186.4 327.5L184.7 326.5L182.2 326.5L181.5 325.4L178.9 323.8L176.1 322.3L178.8 311.8L181.5 308.7L183.2 306.9L182.8 304.8L183.9 301.3L189.0 294.8L196.1 292.2Z" fill="#fdd49e"/>
<path d="M197.3 296.5L195.0 298.5L193.5 300.2L192.3 303.4L193.5 303.7L194.4 305.7L194.1 308.2L195.4 309.2L199.6 309.4L201.0 311.6L205.7 311.3L204.8 313.7L204.6 315.8L205.8 318.7L204.5 320.1L206.0 321.6L206.7 324.4L208.0 325.6L209.9 325.6L213.4 322.5L214.8 321.8L213.4 321.0L212.1 316.7L213.1 316.8L216.1 318.1L216.4 317.0L219.6 315.8L221.2 313.9L219.7 312.0L220.3 311.3L220.3 310.0L222.4 309.0L221.5 307.8L223.1 306.5L223.6 305.8L225.7 301.3L219.0 296.1L200.7 292.2Z" fill="#fdbb84"/>
<path d="M223.6 305.8L223.1 306.5L221.5 307.8L222.4 309.0L220.3 310.0L220.3 311.3L219.7 312.0L221.2 313.9L222.6 313.8L223.4 315.9L223.9 317.2L222.9 320.8L223.5 322.7L225.5 324.4L227.4 323.7L229.7 322.5L230.9 322.5L228.4 318.8L227.4 317.1L227.8 315.0L229.2 313.6L229.5 311.8L230.1 307.9L225.6 304.0Z" fill="#fdbb84"/>
<path d="M229.5 311.8L229.2 313.6L227.8 315.0L227.4 317.1L228.4 318.8L230.9 322.5L232.0 322.7L232.3 321.0L235.3 321.5L236.8 318.5L236.3 317.6L235.8 314.5L236.9 312.4L237.0 309.2L230.0 309.2Z" fill="#fdbb84"/>
<path d="M236.9 312.4L235.8 314.5L236.3 317.6L236.8 318.5L235.3 321.5L237.2 321.6L240.0 320.9L241.4 318.1L242.3 316.6L243.8 314.5L240.4 310.5L237.0 310.5Z" fill="url(#hatch)" stroke="#c4c4c4"/>
</g>
<path d="M125.3 149.9L119.7 149.0L114.5 147.9L110.4 147.3L104.6 146.2L98.8 147.3L92.2 148.4L87.1 150.1L81.0 151.5L77.8 152.7L79.7 154.1L79.5 155.5L81.9 155.9L78.8 157.3L76.8 156.9L72.4 157.5L66.8 158.9L66.5 161.2L68.2 161.5L72.5 161.5L76.0 161.5L73.1 163.8L70.4 163.8L65.3 165.0L61.9 166.1L58.0 168.5L56.9 170.9L57.7 172.6L60.8 172.3L57.1 175.5L61.2 175.2L64.0 175.2L66.5 175.0L62.6 178.1L53.8 181.8L46.9 183.8L40.5 185.5L47.3 184.3L54.0 182.6L59.0 180.6L65.2 178.4L71.4 176.2L75.4 173.8L81.0 170.9L85.7 169.2L85.5 170.2L77.9 174.0L81.8 173.5L86.2 172.1L89.2 170.2L92.0 170.2L93.5 171.4L94.6 172.1L99.0 172.3L101.6 173.0L102.8 175.0L104.2 176.4L104.5 178.1L105.1 180.6L104.8 183.1L106.7 184.3L108.8 184.8L107.5 186.8L108.4 189.3L107.4 191.8L106.5 194.3L109.2 196.1L111.4 197.4L111.6 199.4L111.2 202.0L107.6 200.9L105.4 206.3L101.8 212.2L99.2 215.4L98.3 218.0L95.9 221.6L95.7 224.5L96.1 227.3L96.7 228.4L96.1 230.0L96.5 231.5L96.8 233.9L97.2 236.8L99.7 238.1L101.2 238.9L102.8 241.0L102.8 242.3L103.0 244.9L103.4 247.5L104.4 250.2L105.9 252.8L103.6 254.6L105.3 256.7L107.1 258.6L108.1 262.0L108.3 263.3L111.6 266.2L112.3 267.5L113.6 266.4L112.1 263.8L110.8 259.3L109.3 255.9L109.0 252.8L108.0 250.2L106.6 247.5L107.2 244.4L110.7 245.7L110.9 248.8L112.0 252.8L113.6 254.4L115.2 257.8L116.7 260.9L118.4 263.8L120.4 266.7L121.9 269.8L122.1 271.7L120.8 274.0L123.0 277.5L126.1 279.6L128.2 280.6L130.3 282.2L132.7 283.4L136.8 285.1L140.1 286.4L143.7 285.1L146.0 285.6L149.7 289.5L152.3 291.1L154.5 291.6L157.9 292.9L159.7 293.2L160.6 294.0L162.3 296.1L163.9 298.5L163.6 300.3L163.7 301.6L165.8 302.1L168.2 305.0L170.0 306.3L172.5 306.6L174.3 308.4L175.7 308.4L176.7 306.6L178.0 304.2L180.2 305.3L180.8 307.6L181.5 308.7L182.8 304.8L180.3 302.9L178.1 302.4L174.9 304.2L173.3 304.2L171.7 303.4L170.9 302.4L169.1 300.3L168.5 298.9L169.0 296.1L169.4 293.5L170.4 290.1L170.7 288.2L169.0 286.1L166.7 285.7L164.3 286.1L160.9 286.1L159.2 286.4L157.7 285.9L159.3 284.3L159.8 281.7L160.4 279.0L162.1 276.4L162.5 274.6L164.3 271.9L163.7 270.9L160.5 271.2L156.2 272.2L155.4 275.1L154.6 277.2L152.6 279.0L150.3 278.8L146.0 279.8L143.5 278.5L142.3 277.2L140.7 273.8L140.2 271.2L139.6 269.1L140.5 264.6L142.7 259.5L142.9 255.9L145.6 253.0L149.5 250.9L152.5 249.6L156.5 249.9L159.6 250.9L162.4 251.5L162.4 248.3L165.8 248.1L169.3 247.8L171.5 249.6L174.7 248.6L176.3 251.2L176.4 254.1L177.3 258.0L178.5 261.2L180.3 261.4L181.2 259.9L181.8 256.7L181.3 253.0L180.5 249.4L180.8 247.0L182.5 243.6L185.5 241.5L188.3 239.1L190.7 238.3L194.0 236.5L196.8 235.1L196.9 230.7L197.3 230.0L200.0 226.8L200.8 225.4L203.1 223.4L204.0 221.3L205.4 220.3L208.9 219.5L210.4 218.7L212.2 218.5L213.5 218.2L213.4 217.3L212.4 217.2L212.0 216.4L213.2 214.6L214.8 213.0L217.6 212.0L220.0 211.2L222.4 210.2L222.7 209.4L224.8 209.1L227.8 207.9L224.8 210.7L223.3 212.8L224.5 213.5L228.4 211.2L229.6 210.7L234.2 209.1L235.4 208.6L237.9 207.3L238.5 206.6L237.9 204.5L234.9 207.6L232.1 207.9L229.7 206.8L228.9 204.3L229.2 202.2L226.7 201.7L230.6 200.9L231.6 199.9L229.3 198.9L226.0 199.7L222.5 200.9L219.5 202.2L217.3 204.0L215.4 205.0L219.8 201.4L223.1 199.1L225.8 198.4L228.4 196.3L233.4 196.1L237.7 196.3L241.4 196.1L245.2 193.8L248.3 193.1L251.7 191.3L252.6 188.5L250.7 186.8L250.6 185.3L247.9 186.3L246.1 183.6L244.4 180.6L244.8 178.1L244.0 175.7L243.1 172.8L242.7 171.2L240.3 172.8L237.4 175.0L234.0 176.2L232.0 174.5L233.4 170.9L233.6 169.5L231.1 169.0L229.3 167.3L226.0 166.6L221.8 166.1L220.2 166.6L219.6 168.5L218.4 170.9L218.2 172.6L214.8 175.0L215.9 178.1L215.4 180.6L212.5 182.8L208.0 184.8L206.5 186.0L206.9 188.0L205.6 191.0L203.5 193.1L201.2 193.6L200.3 191.3L200.2 188.8L201.7 185.5L202.3 183.8L197.5 183.6L194.7 181.8L192.3 179.6L189.7 178.9L185.8 179.4L186.4 177.2L185.2 175.0L186.3 172.1L189.6 169.2L194.2 166.6L198.9 164.5L199.1 163.5L204.4 162.4L209.0 159.6L212.3 156.9L215.9 157.3L220.0 156.4L222.6 154.4L224.9 150.8L223.9 149.7L219.8 149.5L217.7 151.2L214.0 153.9L211.2 154.1L209.2 152.3L210.1 150.1L208.8 148.6L211.9 145.8L209.7 144.7L206.8 144.9L202.4 147.7L201.0 149.9L203.3 150.6L199.5 152.1L196.4 152.3L193.4 153.9L189.1 153.9L186.0 153.5L181.5 152.8L176.4 154.6L175.0 156.2L174.7 153.7L170.2 153.9L167.8 152.8L164.7 153.7L164.1 151.5L160.2 150.3L156.1 149.5L154.0 149.0L150.3 150.1L148.7 148.6L149.6 147.8L145.7 149.0L142.1 149.9L138.4 150.2L134.6 150.6L131.8 151.5L129.3 150.8L128.5 149.9ZM182.8 304.8L183.9 306.6L185.6 304.0L187.1 302.4L187.5 300.0L189.0 298.5L190.6 297.9L193.4 297.7L195.3 296.4L196.6 294.9L197.9 295.6L197.4 296.9L195.9 298.2L196.5 299.5L197.0 299.0L198.5 297.9L199.9 297.1L200.5 295.6L201.1 297.4L204.0 298.2L204.9 299.8L207.4 299.8L209.5 300.6L211.8 301.1L213.7 300.0L216.5 299.5L219.0 299.5L217.3 300.6L218.0 301.6L220.5 302.4L221.4 304.0L223.2 305.3L223.6 305.8L226.6 308.4L227.2 309.7L229.5 311.8L232.3 312.2L234.4 312.1L236.9 312.4L239.2 313.2L240.8 314.7L242.2 316.3L243.8 317.4L244.4 321.8L246.0 323.1L246.2 325.0L245.3 326.8L247.2 326.5L249.7 328.4L250.7 329.4L252.3 329.2L255.3 330.5L258.6 332.3L259.3 334.2L261.4 333.9L264.7 335.0L266.3 335.2L269.3 335.1L272.9 337.3L275.7 339.9L277.6 341.0L280.4 341.3L281.1 344.7L281.6 346.5L281.4 348.9L280.1 352.5L278.1 355.2L276.5 357.0L275.7 359.1L273.5 361.7L272.4 364.4L272.6 368.3L272.8 372.2L272.3 374.9L271.6 378.8L270.3 380.9L268.9 384.0L269.0 385.4L266.9 387.7L264.2 388.0L260.8 388.8L259.3 390.1L257.3 390.6L253.9 393.2L252.7 394.5L252.7 397.2L253.2 400.1L252.9 402.7L251.1 404.5L250.1 407.1L248.5 409.8L246.8 412.1L244.6 416.2L244.0 417.9L241.9 419.3L239.0 419.2L235.3 418.0L233.7 416.9L234.0 418.4L237.0 420.3L237.3 422.6L238.6 422.9L237.8 427.3L235.0 429.2L230.9 430.0L228.1 429.4L229.2 432.6L229.3 434.9L226.3 435.6L223.5 434.6L224.4 437.8L227.7 439.1L226.6 440.1L225.4 441.1L225.7 444.2L225.5 445.5L222.4 447.6L222.8 449.4L226.4 450.9L227.5 452.7L225.1 455.8L225.5 458.1L223.6 459.4L224.2 462.4L226.6 464.3L224.4 464.4L222.3 465.4L223.2 467.9L219.6 466.9L216.8 465.2L213.9 463.9L211.9 460.9L210.2 458.3L208.6 455.3L207.3 452.0L206.3 449.9L207.7 447.6L207.9 444.2L205.7 440.9L205.0 437.5L204.8 435.2L204.2 432.6L204.1 430.0L202.7 426.6L202.6 425.2L203.1 423.9L203.1 420.8L204.0 418.2L204.1 415.5L204.0 414.2L203.6 411.6L202.4 407.7L202.7 406.1L202.0 403.2L202.5 399.8L202.6 395.9L202.7 393.2L202.4 389.6L201.9 389.0L202.4 385.4L202.0 380.6L201.2 375.9L198.4 373.3L195.2 371.4L191.3 369.3L189.1 367.8L186.5 364.9L186.0 364.1L184.8 360.7L183.9 359.2L182.4 356.5L181.1 353.9L180.1 351.5L178.8 348.9L177.0 346.5L176.5 345.2L173.9 343.4L173.6 341.3L173.2 339.9L174.0 338.4L175.1 336.8L176.4 335.5L176.4 334.2L175.5 334.4L173.8 333.4L174.3 331.5L174.0 330.4L174.9 328.7L175.9 327.6L176.1 325.5L176.8 325.0L178.9 323.8L179.4 321.0L181.3 320.8L182.5 318.1L183.1 317.4L182.1 315.8L182.7 313.2L182.3 310.5L181.5 308.7Z" fill="none"/>

<g clip-path="url(#c_af)"><path d="M310.0 240.0L480.0 240.0L480.0 425.0L310.0 425.0Z" fill="#fc8d59"/>
<path d="M357.7 235.5L358.7 236.5L358.7 239.1L358.8 242.0L359.8 243.3L356.1 243.5L354.4 244.5L354.4 246.5L351.3 248.8L347.9 250.0L345.5 250.4L343.0 252.3L343.0 255.0L332.8 255.0L328.8 251.5L338.4 233.1L353.8 230.5Z" fill="#fdd49e"/>
<path d="M332.8 255.0L343.0 255.0L343.0 255.9L342.9 259.3L335.4 259.3L335.2 266.0L332.9 267.2L332.7 267.9L332.8 271.6L323.8 271.6L319.1 272.5L321.9 256.7Z" fill="url(#hatch)" stroke="#c4c4c4"/>
<path d="M357.7 235.5L358.7 236.5L358.7 239.1L358.8 242.0L359.8 243.3L356.1 243.5L354.4 244.5L354.4 246.5L351.3 248.8L347.9 250.0L345.5 250.4L343.0 252.3L343.0 255.0L343.0 255.9L351.5 262.0L365.1 272.2L365.2 273.3L369.8 275.6L370.0 277.7L372.2 277.3L375.8 276.5L379.5 272.9L389.7 265.9L388.7 263.8L385.8 263.0L383.8 258.8L384.9 258.0L384.6 253.3L384.8 250.9L383.8 248.2L382.6 243.3L380.9 242.3L379.1 238.9L380.6 236.6L380.5 233.1L381.2 230.6L379.8 226.6L358.1 230.5Z" fill="#fdd49e"/>
<path d="M381.2 230.6L380.5 233.1L380.6 236.6L379.1 238.9L380.9 242.3L382.6 243.3L383.8 248.2L385.3 246.9L385.4 244.4L388.0 242.5L388.1 240.6L391.2 238.3L388.5 226.6L380.9 227.9Z" fill="#fef0d9"/>
<path d="M388.1 240.6L388.0 242.5L385.4 244.4L385.3 246.9L383.8 248.2L384.8 250.9L384.6 253.3L384.9 258.0L383.8 258.8L385.8 263.0L388.7 263.8L389.7 265.9L394.8 268.3L396.6 267.2L417.5 276.4L417.4 275.1L419.7 275.1L419.5 269.8L418.6 250.9L417.7 248.6L418.4 244.5L417.6 238.3L386.7 237.0Z" fill="#fef0d9"/>
<path d="M418.4 244.5L417.7 248.6L418.6 250.9L419.5 269.8L446.7 269.8L449.0 267.2L443.5 254.1L442.0 250.2L438.8 245.4L437.8 241.0L417.8 241.0Z" fill="#fef0d9"/>
<path d="M323.8 271.6L332.8 271.6L332.7 267.9L332.9 267.2L335.2 266.0L335.4 259.3L342.9 259.3L343.0 255.9L351.5 262.0L347.8 262.0L349.8 286.9L341.1 286.9L337.8 287.2L336.0 286.6L335.3 288.5L334.3 288.9L332.5 286.9L330.3 284.5L328.2 283.9L325.0 284.3L324.5 285.5L318.7 285.6L319.1 272.5Z" fill="#fc8d59"/>
<path d="M334.3 288.9L335.3 288.5L336.0 286.6L337.8 287.2L341.1 286.9L349.8 286.9L347.8 262.0L351.5 262.0L365.1 272.2L365.2 273.3L369.8 275.6L370.0 277.7L372.2 277.3L372.3 283.8L370.6 287.3L365.5 287.4L363.0 288.3L360.9 288.0L360.2 288.7L357.9 290.3L355.8 290.8L354.9 292.7L352.6 292.9L352.3 295.8L350.0 297.7L349.7 300.2L348.1 299.5L346.4 300.4L344.0 300.9L343.3 298.7L342.1 297.1L341.0 295.0L337.7 296.1L336.2 295.0L336.1 293.6L334.8 291.1L334.3 288.9Z" fill="#fc8d59"/>
<path d="M363.0 288.3L365.5 287.4L370.6 287.3L372.3 283.8L372.2 277.3L375.8 276.5L379.5 272.9L389.7 265.9L394.8 268.3L396.6 267.2L399.1 274.0L398.0 275.1L398.2 283.2L393.7 289.5L393.9 291.6L391.4 293.3L385.6 292.7L383.3 293.9L380.5 292.6L378.5 293.5L375.2 291.1L372.0 292.2L370.9 294.8L370.8 296.9L369.1 295.0L368.1 296.4L367.4 294.3L364.8 293.7L364.8 292.4L363.4 290.8L363.0 288.3Z" fill="#fdbb84"/>
<path d="M393.9 291.6L393.7 289.5L398.2 283.2L398.0 275.1L399.1 274.0L396.6 267.2L417.5 276.4L417.8 286.4L415.3 286.4L413.5 290.6L414.1 292.7L413.2 294.3L413.9 294.3L415.5 298.9L412.8 299.8L409.6 303.7L406.6 304.0L406.4 304.5L403.4 306.9L401.5 307.8L398.5 307.9L397.8 305.0L394.9 302.3L395.4 301.3L398.4 301.3L397.4 299.2L397.5 296.6L397.0 294.3L395.4 295.0L395.1 293.2L393.9 291.6Z" fill="#fc8d59"/>
<path d="M417.5 276.4L417.4 275.1L419.7 275.1L419.5 269.8L446.7 269.8L451.6 272.5L454.3 280.3L451.1 280.3L447.6 283.0L446.6 288.0L446.9 290.2L446.0 294.3L443.8 296.6L443.5 299.1L442.0 299.9L441.6 302.7L441.1 300.8L439.5 299.5L439.1 295.6L438.2 296.1L437.3 296.9L434.9 301.9L430.9 301.9L427.5 302.9L424.0 302.7L420.5 300.6L418.7 304.8L417.1 304.2L417.4 301.6L415.5 298.9L413.9 294.3L413.2 294.3L414.1 292.7L413.5 290.6L415.3 286.4L417.8 286.4L417.5 276.4Z" fill="#fdbb84"/>
<path d="M446.9 290.2L446.6 288.0L447.6 283.0L451.1 280.3L454.3 280.3L464.2 292.2L462.2 294.3L460.6 294.9L457.2 291.9L454.8 289.7L452.5 289.3L449.9 288.6L446.9 290.2Z" fill="#fc8d59"/>
<path d="M462.0 298.8L459.4 298.7L459.3 296.9L460.6 294.9L462.2 294.3L464.3 295.3L462.7 297.5L462.0 298.8Z" fill="#fc8d59"/>
<path d="M460.6 294.9L457.2 291.9L454.8 289.7L452.5 289.3L449.9 288.6L446.9 290.2L446.0 294.3L443.8 296.6L443.5 299.1L442.0 299.9L441.6 302.7L441.7 305.0L439.2 306.9L443.2 310.0L444.6 313.4L446.2 315.5L448.4 316.0L451.2 318.1L454.5 318.7L457.5 316.6L460.0 317.2L462.6 315.5L467.2 314.6L474.0 306.6L464.6 304.1L462.3 302.4L461.5 299.8L462.0 298.8L459.4 298.7L459.3 296.9L460.6 294.9Z" fill="#fc8d59"/>
<path d="M462.0 298.8L461.5 299.8L462.3 302.4L464.6 304.1L474.0 306.6L467.2 314.6L462.6 315.5L460.0 317.2L458.0 320.2L458.0 329.8L459.3 331.9L462.6 335.5L486.0 322.3L485.1 293.5L464.3 295.3L462.7 297.5L462.0 298.8Z" fill="#fdbb84"/>
<path d="M324.5 285.5L325.0 284.3L328.2 283.9L330.3 284.5L332.5 286.9L334.3 288.9L334.8 291.1L336.1 293.6L336.2 295.0L333.8 295.2L330.8 294.4L327.3 294.3L323.9 295.2L319.7 294.8L319.9 285.6Z" fill="#fdbb84"/>
<path d="M323.4 293.1L327.8 293.1L330.6 292.7L330.6 292.0L327.8 291.4L326.7 291.9L323.4 291.9Z" fill="#fdbb84"/>
<path d="M323.9 295.2L327.3 294.3L330.8 294.4L330.8 296.9L328.5 297.4L327.5 298.9L323.1 300.0L322.0 294.8Z" fill="#fc8d59"/>
<path d="M330.8 294.4L333.8 295.2L336.2 295.0L337.7 296.1L341.0 295.0L342.1 297.1L343.3 298.7L344.0 300.9L344.7 302.9L343.2 306.1L343.3 307.8L342.8 307.8L341.4 308.7L340.5 308.2L340.7 306.6L338.7 305.3L337.8 303.8L336.5 301.3L333.5 301.7L331.6 303.8L327.7 305.3L325.4 300.0L327.5 298.9L328.5 297.4L330.8 296.9L330.8 294.4Z" fill="#fc8d59"/>
<path d="M331.6 303.8L333.5 301.7L336.5 301.3L337.8 303.8L338.7 305.3L337.6 307.3L335.8 309.4L331.1 310.5L328.8 304.0Z" fill="#fc8d59"/>
<path d="M335.8 309.4L337.6 307.3L338.7 305.3L340.7 306.6L340.5 308.2L341.4 308.7L342.8 307.8L343.2 310.8L345.2 312.2L344.9 316.2L341.5 318.4L333.4 311.8Z" fill="#fc8d59"/>
<path d="M344.9 316.2L345.2 312.2L343.2 310.8L342.8 307.8L343.3 307.8L343.2 306.1L344.7 302.9L344.0 300.9L346.4 300.4L348.1 299.5L349.7 300.2L351.6 302.1L355.1 301.6L356.2 302.7L356.7 306.1L354.9 310.3L356.1 312.9L355.3 314.2L353.2 317.1L343.9 318.4Z" fill="#fc8d59"/>
<path d="M356.2 302.7L355.1 301.6L351.6 302.1L349.7 300.2L350.0 297.7L352.3 295.8L352.6 292.9L354.9 292.7L355.8 290.8L357.9 290.3L360.2 288.7L360.9 288.0L363.0 288.3L363.4 290.8L364.8 292.4L364.8 293.7L367.4 294.3L368.1 296.4L365.7 297.5L364.6 298.7L362.2 298.5L355.8 298.9L356.2 302.7Z" fill="#fdbb84"/>
<path d="M355.3 314.2L356.1 312.9L354.9 310.3L356.7 306.1L356.2 302.7L355.8 298.9L362.2 298.5L362.5 299.8L363.3 300.6L363.4 304.0L364.1 305.8L363.8 308.2L363.7 309.5L365.3 311.6L364.8 315.8L355.5 317.1Z" fill="#fc8d59"/>
<path d="M365.3 311.6L363.7 309.5L363.8 308.2L364.1 305.8L363.4 304.0L363.3 300.6L362.5 299.8L362.2 298.5L364.6 298.7L364.4 300.3L365.6 302.7L366.3 304.0L366.3 311.2L366.0 313.7Z" fill="#fc8d59"/>
<path d="M366.3 311.2L366.3 304.0L365.6 302.7L364.4 300.3L364.6 298.7L365.7 297.5L368.1 296.4L369.1 295.0L370.8 296.9L371.3 299.8L369.7 303.7L368.9 306.6L368.8 310.9L368.3 313.7L366.2 313.7Z" fill="#fdbb84"/>
<path d="M368.8 310.9L368.9 306.6L369.7 303.7L371.3 299.8L370.8 296.9L370.9 294.8L372.0 292.2L375.2 291.1L378.5 293.5L380.5 292.6L383.3 293.9L385.6 292.7L391.4 293.3L393.9 291.6L395.1 293.2L395.4 295.0L396.3 297.4L394.5 298.7L393.1 302.4L392.2 304.5L390.8 305.5L389.9 309.0L388.8 310.3L387.1 309.1L386.2 309.5L385.3 309.7L383.1 312.2L382.3 315.7L378.8 319.7L369.5 314.5Z" fill="#fc8d59"/>
<path d="M382.3 315.7L383.1 312.2L385.3 309.7L386.2 309.5L387.1 309.1L388.8 310.3L389.9 309.0L390.8 305.5L392.2 304.5L393.1 302.4L394.5 298.7L396.3 297.4L395.4 295.0L397.0 294.3L397.5 296.6L397.4 299.2L398.4 301.3L395.4 301.3L394.9 302.3L397.8 305.0L398.5 307.9L396.4 311.3L396.2 313.9L397.4 316.0L397.7 317.9L400.2 321.8L400.0 323.1L396.3 321.8L393.5 321.9L388.9 321.9L385.3 321.6L382.3 319.7Z" fill="#e34a33"/>
<path d="M400.2 321.8L397.7 317.9L397.4 316.0L396.2 313.9L396.4 311.3L398.5 307.9L401.5 307.8L403.4 306.9L406.4 304.5L406.6 304.0L409.6 303.7L412.8 299.8L415.5 298.9L417.4 301.6L417.1 304.2L418.7 304.8L421.0 307.1L423.9 310.3L426.4 314.3L421.4 314.5L419.3 314.2L415.8 315.0L414.6 316.8L410.4 316.0L407.9 314.2L405.8 316.3L405.8 318.4L400.9 319.2L400.2 321.8Z" fill="#e34a33"/>
<path d="M418.7 304.8L420.5 300.6L424.0 302.7L427.5 302.9L430.9 301.9L434.9 301.9L437.3 296.9L438.2 296.1L439.1 295.6L439.5 299.5L441.1 300.8L441.6 302.7L441.7 305.0L439.2 306.9L443.2 310.0L444.6 313.4L446.2 315.5L441.6 316.6L439.3 317.6L436.8 318.1L434.3 318.4L431.2 315.5L426.4 314.3L423.9 310.3L421.0 307.1L418.7 304.8Z" fill="#fc8d59"/>
<path d="M385.3 321.6L388.9 321.9L388.9 325.0L384.9 325.0L383.0 323.7Z" fill="#e34a33"/>
<path d="M384.9 325.0L388.9 325.0L388.9 321.9L393.5 321.9L393.5 324.2L395.6 324.2L396.3 325.5L394.9 327.1L396.1 328.9L396.3 332.6L395.3 333.9L391.6 333.9L389.5 335.0L390.2 337.1L388.3 338.0L383.5 336.8L380.0 328.9L383.5 325.0Z" fill="#e34a33"/>
<path d="M388.3 338.0L390.2 337.1L389.5 335.0L391.6 333.9L395.3 333.9L396.3 332.6L396.1 328.9L394.9 327.1L396.3 325.5L395.6 324.2L393.5 324.2L393.5 321.9L396.3 321.8L400.0 323.1L400.2 321.8L400.9 319.2L405.8 318.4L404.7 321.6L404.0 326.8L400.2 332.9L399.5 337.8L398.1 338.9L396.0 340.5L393.7 340.2L393.0 339.7L391.4 339.7L390.4 340.7L388.1 340.7Z" fill="#e34a33"/>
<path d="M393.0 339.7L393.7 340.2L396.0 340.5L398.1 338.9L399.5 337.8L400.2 332.9L404.0 326.8L404.7 321.6L405.8 318.4L405.8 316.3L407.9 314.2L410.4 316.0L414.6 316.8L415.8 315.0L419.3 314.2L421.4 314.5L426.4 314.3L431.2 315.5L434.3 318.4L435.4 322.0L432.3 325.5L431.7 327.9L431.5 331.3L430.0 334.8L430.9 339.3L433.9 349.1L429.6 349.9L429.0 352.0L428.9 355.7L428.3 358.7L431.5 359.5L431.4 362.9L429.5 362.8L428.2 360.4L425.5 358.1L424.8 359.0L421.3 358.4L421.1 357.0L418.8 357.3L418.1 356.2L414.2 357.0L413.2 352.8L413.2 346.8L409.0 346.0L407.4 348.6L404.3 348.9L402.0 346.5L401.1 343.0L393.2 343.0L391.1 343.6L389.9 343.4L390.9 342.7L391.5 341.4L393.0 339.7Z" fill="#fc8d59"/>
<path d="M390.4 340.7L391.4 339.7L393.0 339.7L391.5 341.4L390.9 342.7L389.3 342.0Z" fill="#fc8d59"/>
<path d="M431.5 331.3L431.7 327.9L432.3 325.5L435.4 322.0L434.3 318.4L436.8 318.1L439.3 317.6L441.6 316.6L444.0 322.6L443.1 324.7L441.6 327.1L441.5 330.2L433.6 330.2L431.5 331.3Z" fill="#e34a33"/>
<path d="M441.5 330.2L441.6 327.1L443.1 324.7L444.0 322.6L441.6 316.6L446.2 315.5L448.4 316.0L451.2 318.1L454.5 318.7L457.5 316.6L460.0 317.2L458.0 320.2L458.0 329.8L459.3 331.9L462.6 335.5L455.5 342.0L453.7 339.9L450.1 335.5L441.5 330.2Z" fill="#fc8d59"/>
<path d="M430.0 334.8L431.5 331.3L433.6 330.2L434.2 333.8L430.0 334.8Z" fill="#fc8d59"/>
<path d="M430.9 339.3L430.0 334.8L434.2 333.8L433.3 337.6L430.9 339.3Z" fill="#fc8d59"/>
<path d="M441.5 330.2L450.1 335.5L453.7 339.9L455.5 342.0L458.8 353.9L456.3 355.2L451.7 357.5L449.3 358.3L443.4 358.0L441.4 352.5L439.0 352.3L434.5 350.2L433.9 349.1L430.9 339.3L433.3 337.6L434.2 333.8L433.6 330.2L441.5 330.2Z" fill="#fc8d59"/>
<path d="M391.1 343.6L393.2 343.0L401.1 343.0L402.0 346.5L404.3 348.9L407.4 348.6L409.0 346.0L413.2 346.8L413.2 352.8L414.2 357.0L418.1 356.2L418.0 361.7L413.4 361.7L413.2 370.1L416.3 373.8L411.6 374.7L404.9 373.3L394.7 373.3L392.4 372.2L389.5 372.9L385.5 372.2L388.1 343.4Z" fill="#fc8d59"/>
<path d="M416.3 373.8L413.2 370.1L413.4 361.7L418.0 361.7L418.1 356.2L418.8 357.3L421.1 357.0L421.3 358.4L424.8 359.0L425.5 358.1L428.2 360.4L429.5 362.8L431.4 362.9L431.5 359.5L428.3 358.7L428.9 355.7L429.0 352.0L429.6 349.9L433.9 349.1L434.5 350.2L439.0 352.3L439.7 356.0L439.6 358.1L438.8 360.7L438.1 363.3L439.2 364.4L432.2 366.8L432.6 368.6L429.1 369.5L424.5 374.7L420.5 374.3L418.8 373.5L416.3 373.8Z" fill="#e34a33"/>
<path d="M439.2 364.4L441.9 365.4L442.3 367.8L441.7 369.9L443.7 372.5L445.0 369.6L445.1 365.9L443.2 363.0L442.6 358.1L443.4 358.0L441.4 352.5L439.0 352.3L439.7 356.0L439.6 358.1L438.8 360.7L438.1 363.3L439.2 364.4Z" fill="#e34a33"/>
<path d="M432.6 368.6L432.2 366.8L439.2 364.4L441.9 365.4L442.3 367.8L441.7 369.9L443.7 372.5L445.0 369.6L445.1 365.9L443.2 363.0L442.6 358.1L443.4 358.0L449.3 358.3L451.7 357.5L456.3 355.2L459.8 356.5L458.6 380.1L439.2 398.5L436.8 398.1L435.0 398.1L434.8 395.7L435.1 391.9L434.3 389.3L433.8 386.4L436.5 383.5L436.8 381.7L438.0 379.6L437.5 377.0L438.3 373.5L438.2 371.4L434.6 369.6L432.6 368.6Z" fill="#e34a33"/>
<path d="M420.5 374.3L424.5 374.7L429.1 369.5L432.6 368.6L434.6 369.6L438.2 371.4L438.3 373.5L437.5 377.0L438.0 379.6L436.8 381.7L436.5 383.5L433.8 386.4L429.5 385.9L426.4 384.2L425.8 381.4L422.5 378.9L420.5 374.3Z" fill="#e34a33"/>
<path d="M420.5 374.3L418.5 374.9L416.0 374.9L410.7 375.6L410.4 385.4L408.1 385.4L407.9 392.6L409.5 398.0L411.5 398.1L413.9 394.5L414.6 394.0L418.4 395.3L420.5 394.8L421.3 392.6L423.7 389.7L426.1 386.9L429.5 385.9L426.4 384.2L425.8 381.4L422.5 378.9L420.5 374.3Z" fill="#e34a33"/>
<path d="M389.5 372.9L392.4 372.2L394.7 373.3L404.9 373.3L411.6 374.7L416.3 373.8L418.8 373.5L420.5 374.3L418.5 374.9L416.0 374.9L410.7 375.6L410.4 385.4L408.1 385.4L407.9 392.6L407.5 402.2L405.1 403.5L401.6 402.9L399.6 402.7L391.8 401.1L385.5 374.9Z" fill="#e34a33"/>
<path d="M399.6 402.7L401.6 402.9L405.1 403.5L407.5 402.2L407.9 392.6L409.5 398.0L411.5 398.1L413.9 394.5L414.6 394.0L418.4 395.3L420.5 394.8L421.3 392.6L423.7 389.7L426.1 386.9L429.5 385.9L433.8 386.4L434.3 389.3L435.1 391.9L434.8 395.7L435.0 398.1L436.8 398.1L440.8 406.4L410.4 424.7L393.6 411.6Z" fill="#e34a33"/>
<path d="M434.8 395.1L435.2 398.1L433.3 399.7L431.8 398.2L432.4 395.6Z" fill="#b30000"/>
<path d="M422.7 405.3L424.7 403.2L427.0 402.4L428.6 404.5L427.8 406.4L425.2 408.3L423.5 407.3Z" fill="#b30000"/>
</g>
<path d="M349.6 233.6L350.9 233.4L352.6 235.2L355.9 234.9L357.7 235.5L360.3 233.9L362.5 233.4L365.1 231.8L369.1 231.0L373.4 231.0L376.7 230.2L379.5 230.7L381.2 230.6L383.8 229.7L384.9 230.7L386.6 230.3L385.6 232.1L385.7 233.6L386.9 235.2L386.3 237.0L384.8 238.6L387.1 240.4L388.1 240.6L390.2 241.5L391.7 241.2L396.2 242.5L397.0 244.9L401.5 246.5L405.0 248.1L407.1 246.5L407.0 243.3L410.1 241.2L413.7 242.0L414.2 243.1L418.4 244.5L422.6 245.2L427.2 246.6L429.1 245.7L431.5 244.8L434.4 245.4L437.2 246.0L438.8 245.4L440.7 250.2L440.3 253.6L439.6 254.8L438.0 253.3L436.8 251.5L435.4 249.1L435.1 250.2L435.9 252.3L437.2 254.1L438.7 256.2L440.3 259.3L441.9 262.5L443.4 264.9L443.3 267.2L446.7 269.8L447.5 272.5L447.8 276.1L448.5 278.5L451.1 280.3L452.8 285.6L453.4 286.6L454.8 288.2L457.6 289.5L460.5 292.9L462.2 294.3L462.8 295.2L462.7 296.2L461.6 297.3L462.7 297.5L464.5 300.2L466.8 300.2L470.3 299.2L472.6 298.3L476.0 297.9L479.0 297.1L481.2 296.5L481.0 300.0L480.4 302.9L478.6 306.6L476.9 310.0L474.2 315.5L471.9 318.4L469.6 321.0L468.1 322.2L465.0 325.0L461.6 328.5L459.3 331.9L457.8 333.6L456.1 334.7L455.9 336.0L454.9 338.2L453.7 339.9L452.7 343.4L453.9 345.5L453.8 348.6L454.2 351.0L454.8 353.9L456.3 355.2L456.4 360.4L456.2 361.7L456.7 365.7L456.4 367.5L454.4 370.4L452.2 372.2L448.7 374.1L447.2 374.6L445.5 377.2L442.4 379.7L441.8 381.7L443.1 384.0L443.4 386.7L443.3 390.1L442.4 391.9L438.4 393.8L436.5 395.6L436.8 398.1L435.9 401.1L434.6 403.2L432.0 406.0L429.8 409.0L426.9 412.1L424.3 414.2L421.0 416.2L419.2 416.9L417.1 417.4L414.1 417.1L411.2 417.4L406.5 419.0L404.0 417.8L403.1 417.8L403.1 416.6L402.2 413.7L403.1 412.4L403.2 410.8L401.2 407.1L399.6 402.7L397.8 400.6L396.7 397.6L396.3 393.2L395.5 387.8L395.6 385.4L393.1 382.2L391.2 377.0L389.5 372.9L389.7 369.6L390.5 367.5L390.9 364.4L393.5 360.2L394.5 356.5L393.6 352.5L392.7 351.5L393.1 350.7L393.6 349.1L392.3 346.0L391.1 343.6L390.9 342.7L390.4 340.7L390.0 339.7L388.3 338.0L385.8 335.2L384.6 333.4L383.5 331.0L383.0 329.4L384.2 328.4L384.5 326.5L384.9 325.0L385.3 321.6L385.6 319.7L384.7 317.4L383.4 316.8L382.3 315.7L380.0 315.9L378.8 316.0L376.7 316.3L375.1 313.9L374.1 312.1L373.0 311.1L370.4 310.8L368.8 310.9L366.3 311.2L365.3 311.6L364.6 312.4L362.0 313.0L360.2 313.9L357.6 315.1L355.3 314.2L353.2 313.8L350.9 314.2L348.5 315.1L344.9 316.2L341.6 314.5L339.1 312.2L337.4 311.1L335.8 309.4L333.5 308.2L331.8 305.4L331.6 303.8L330.7 302.7L328.9 300.0L327.5 298.9L326.1 297.4L323.9 295.2L323.7 293.2L324.3 291.9L323.7 290.8L322.1 289.0L322.9 288.5L324.5 285.5L325.6 281.7L325.8 280.1L325.4 277.7L324.7 276.7L325.2 275.1L323.5 273.0L323.9 270.4L325.4 267.5L326.2 265.4L328.9 262.0L329.7 259.1L332.3 256.5L332.8 255.0L333.5 254.2L337.6 252.1L339.6 250.4L341.1 247.8L340.7 245.2L342.0 242.8L343.7 240.3L345.7 239.4L347.4 238.2L348.7 235.7Z" fill="none"/>

<g clip-path="url(#c_eu)"><path d="M300.0 100.0L720.0 100.0L720.0 340.0L300.0 340.0Z" fill="#fdd49e"/>
<path d="M343.7 217.7L345.1 217.2L345.3 218.0L348.5 217.6L349.3 218.5L347.8 220.0L347.9 221.9L347.4 223.4L346.4 223.6L347.4 225.2L346.7 226.8L347.3 227.3L346.2 229.2L346.4 230.0L346.3 231.8L339.6 231.8L340.3 216.1Z" fill="#fdd49e"/>
<path d="M346.4 230.0L346.2 229.2L347.3 227.3L346.7 226.8L347.4 225.2L346.4 223.6L347.4 223.4L347.9 221.9L347.8 220.0L349.3 218.5L348.5 217.6L345.3 218.0L345.1 217.2L343.7 217.7L341.6 211.0L358.3 211.0L358.7 213.9L359.5 214.7L361.0 215.1L364.0 215.4L365.6 215.9L366.3 216.4L369.2 216.3L371.0 220.0L364.7 227.9L358.1 233.4L349.4 233.6L346.3 231.8Z" fill="#fef0d9"/>
<path d="M369.2 216.3L366.3 216.4L365.6 215.9L364.0 215.4L361.0 215.1L359.5 214.7L358.7 213.9L356.2 212.2L350.2 200.7L358.5 195.6L365.5 193.1L367.6 194.1L368.9 195.0L371.0 196.1L370.9 196.9L372.3 196.5L374.3 198.0L375.5 198.2L379.2 199.5L378.1 201.7L378.1 203.0L376.9 203.5L375.1 205.5L375.1 206.6L376.6 206.1L377.1 207.3L377.1 208.4L376.4 209.4L377.0 211.2L378.7 211.9L378.3 212.8L377.3 216.1L371.0 217.4Z" fill="#fef0d9"/>
<path d="M374.3 198.0L372.3 196.5L370.9 196.9L371.0 196.1L368.9 195.0L367.6 194.1L367.9 192.8L369.2 192.8L369.2 193.4L371.1 193.4L372.5 193.2L374.2 193.9L374.0 194.8L374.6 195.0L375.3 196.0L374.9 196.5L374.1 197.2L374.3 198.0Z" fill="#fef0d9"/>
<path d="M374.3 198.0L374.1 197.2L374.9 196.5L375.7 197.4L375.5 198.2L374.3 198.0Z" fill="#fef0d9"/>
<path d="M374.6 195.0L374.0 194.8L374.2 193.9L372.5 193.2L371.1 193.4L369.2 193.4L368.5 191.8L371.3 187.3L376.3 187.3L376.7 188.7L376.5 190.2L375.8 190.4L376.5 191.2L376.1 191.9L374.5 192.2L374.7 193.2L374.6 195.0Z" fill="#fef0d9"/>
<path d="M374.6 195.0L374.7 193.2L374.5 192.2L376.1 191.9L376.5 191.2L375.8 190.4L376.5 190.2L376.7 188.7L377.2 186.0L378.5 184.3L379.3 184.5L380.9 184.7L383.0 184.8L386.9 184.8L390.3 185.5L390.5 187.0L390.9 188.5L390.5 189.7L391.6 190.4L392.0 192.8L392.6 194.3L392.2 194.6L391.2 194.2L388.7 195.7L386.9 196.1L387.8 197.1L388.9 198.6L390.7 200.0L389.9 201.1L388.6 201.6L389.2 203.2L387.6 202.8L384.0 203.1L382.1 203.1L380.0 202.5L378.1 203.0L378.1 201.7L379.2 199.5L375.5 198.2L375.7 197.4L374.9 196.5L375.3 196.0L374.6 195.0Z" fill="#fef0d9"/>
<path d="M380.9 184.7L379.3 184.5L377.1 184.3L376.8 178.1L383.3 176.4L384.3 181.8L382.4 185.0Z" fill="#fef0d9"/>
<path d="M377.1 207.3L376.6 206.1L375.1 206.6L375.1 205.5L376.9 203.5L378.1 203.0L380.0 202.5L382.1 203.1L382.3 204.4L384.1 204.8L383.4 206.4L381.7 205.8L381.2 207.5L380.0 205.9L378.8 207.3L377.1 207.3Z" fill="#fef0d9"/>
<path d="M384.1 204.8L382.3 204.4L382.1 203.1L384.0 203.1L387.6 202.8L389.2 203.2L388.6 201.6L389.9 201.1L390.7 200.0L392.5 200.4L393.0 199.4L395.3 200.0L397.1 200.4L397.7 202.0L397.6 202.7L396.3 202.7L396.4 203.5L395.7 204.8L394.8 205.3L392.6 206.1L390.8 205.7L388.1 205.3L387.7 204.4L385.2 205.1L384.1 204.8Z" fill="#fef0d9"/>
<path d="M378.3 212.8L378.7 211.9L377.0 211.2L376.4 209.4L377.1 208.4L377.1 207.3L378.8 207.3L380.0 205.9L381.2 207.5L381.7 205.8L383.4 206.4L384.1 204.8L385.2 205.1L387.7 204.4L388.1 205.3L390.8 205.7L390.3 206.6L390.8 207.6L391.1 208.0L390.2 208.9L389.7 211.0L394.2 215.4L400.8 218.7L403.9 222.6L403.1 225.2L400.4 226.6L397.3 229.7L394.9 226.3L390.3 221.3L383.7 216.1L382.5 213.5L379.4 213.5Z" fill="#fef0d9"/>
<path d="M391.1 208.0L390.8 207.6L390.3 206.6L390.8 205.7L392.6 206.1L394.8 205.3L395.7 204.8L396.3 205.7L394.9 206.6L394.4 208.5L392.7 208.4L390.8 208.4L390.4 208.2Z" fill="#fef0d9"/>
<path d="M390.8 208.4L392.7 208.4L394.4 208.5L394.9 206.6L396.3 205.7L396.6 205.8L399.1 207.2L401.7 207.3L402.2 208.9L402.2 210.0L398.0 209.1L395.3 209.1L395.4 210.2L396.5 211.7L399.7 214.8L401.6 216.0L401.3 216.9L398.6 216.7L395.2 214.8L391.9 211.7L390.2 209.1Z" fill="#fef0d9"/>
<path d="M401.6 216.0L399.7 214.8L396.5 211.7L395.4 210.2L395.3 209.1L398.0 209.1L402.2 210.0L403.1 211.5L402.9 213.5L401.8 214.3L401.6 216.0Z" fill="#fef0d9"/>
<path d="M401.7 207.3L404.5 206.7L407.3 209.1L407.2 210.2L409.5 210.4L410.0 211.7L409.7 214.1L411.1 214.4L409.9 216.7L408.2 216.8L406.3 217.8L405.0 216.0L405.5 215.2L402.9 213.5L403.1 211.5L402.2 210.0L402.2 208.9L401.7 207.3Z" fill="#fdd49e"/>
<path d="M411.4 219.1L414.7 218.6L416.5 219.4L418.6 218.2L419.2 219.1L418.2 220.8L416.3 223.9L417.2 233.1L408.4 233.1L404.5 223.9L405.5 223.4L406.8 222.4L407.4 220.4L409.1 220.2Z" fill="#fef0d9"/>
<path d="M403.7 217.8L404.5 216.1L405.0 216.0L406.3 217.8L406.2 219.3L407.4 220.4L406.8 222.4L405.5 223.4L402.8 221.3L402.5 218.0Z" fill="#fef0d9"/>
<path d="M406.3 217.8L408.2 216.8L409.9 216.7L411.4 219.1L409.1 220.2L407.4 220.4L406.2 219.3Z" fill="#fef0d9"/>
<path d="M401.6 216.0L401.8 214.3L402.9 213.5L405.5 215.2L405.0 216.0L404.5 216.1L403.7 217.8L402.0 217.7Z" fill="#fef0d9"/>
<path d="M410.0 211.7L410.9 212.8L416.2 213.2L419.2 211.9L422.6 212.9L423.8 214.8L423.1 217.4L422.0 217.4L420.7 217.3L418.6 218.2L416.5 219.4L414.7 218.6L411.4 219.1L409.9 216.7L411.1 214.4L409.7 214.1L410.0 211.7Z" fill="#fdd49e"/>
<path d="M404.5 206.7L406.3 206.3L409.5 202.1L413.6 202.6L416.9 201.3L420.5 204.8L421.2 208.5L424.3 209.1L425.3 211.0L423.5 213.0L422.6 212.9L419.2 211.9L416.2 213.2L410.9 212.8L410.0 211.7L409.5 210.4L407.2 210.2L407.3 209.1L404.5 206.7Z" fill="#fdd49e"/>
<path d="M416.9 201.3L418.7 200.8L420.2 201.4L422.4 202.2L424.3 205.0L424.8 206.1L422.6 207.0L421.2 208.5L420.5 204.8L416.9 201.3Z" fill="#fdd49e"/>
<path d="M395.7 204.8L396.4 203.5L396.3 202.7L397.6 202.7L397.7 202.0L401.1 202.3L402.7 201.4L405.0 200.5L407.8 200.9L409.5 202.1L406.3 206.3L404.5 206.7L401.7 207.3L399.1 207.2L396.6 205.8L396.3 205.7L395.7 204.8Z" fill="#fdd49e"/>
<path d="M397.7 202.0L397.1 200.4L397.6 199.7L399.3 199.3L400.7 198.1L402.0 197.9L402.8 198.9L404.3 198.4L406.4 198.4L408.4 199.2L407.8 200.9L405.0 200.5L402.7 201.4L401.1 202.3L397.7 202.0Z" fill="#fef0d9"/>
<path d="M392.2 194.6L391.2 194.2L388.7 195.7L386.9 196.1L387.8 197.1L388.9 198.6L390.7 200.0L392.5 200.4L393.0 199.4L395.3 200.0L397.1 200.4L397.6 199.7L399.3 199.3L400.7 198.1L398.2 196.1L396.7 196.1L395.2 195.8L395.3 195.2L393.2 194.4L392.2 194.6Z" fill="#fef0d9"/>
<path d="M392.2 194.6L392.6 194.3L392.0 192.8L391.6 190.4L390.5 189.7L390.9 188.5L390.5 187.0L390.4 185.3L395.5 183.6L400.7 184.5L400.8 185.7L407.1 185.9L408.6 186.9L409.9 190.0L409.4 191.5L409.7 193.1L411.0 195.3L408.5 197.9L408.4 199.2L406.4 198.4L404.3 198.4L402.8 198.9L402.0 197.9L400.7 198.1L398.2 196.1L396.7 196.1L395.2 195.8L395.3 195.2L393.2 194.4L392.2 194.6Z" fill="#fef0d9"/>
<path d="M403.2 183.6L403.9 183.7L405.3 184.2L407.0 184.5L407.1 185.9L408.6 186.9L410.4 187.0L412.4 186.0L412.8 184.7L414.2 184.1L414.0 182.6L410.4 180.8L404.8 180.8L403.1 181.7L402.0 181.8L402.3 183.6Z" fill="#fdd49e"/>
<path d="M403.1 181.7L404.8 180.8L410.4 180.8L414.0 182.6L415.8 182.3L416.7 181.5L415.5 179.7L415.5 178.6L414.6 178.1L411.8 177.3L410.5 176.9L408.7 177.2L407.5 177.7L405.3 176.9L402.1 178.1L402.0 181.8Z" fill="#fdd49e"/>
<path d="M408.7 177.2L410.5 176.9L411.8 177.3L414.6 178.1L414.5 176.4L414.1 175.0L414.9 173.4L412.7 172.1L405.4 172.8L405.5 175.7L407.4 177.0Z" fill="#fdd49e"/>
<path d="M416.7 181.5L419.2 182.0L422.3 182.8L422.5 184.8L423.4 185.3L426.9 188.2L424.5 188.8L425.8 191.5L423.8 193.6L421.2 193.3L416.8 192.4L412.9 191.9L409.7 193.1L409.4 191.5L409.9 190.0L408.6 186.9L410.4 187.0L412.4 186.0L412.8 184.7L414.2 184.1L414.0 182.6L415.8 182.3L416.7 181.5Z" fill="#fdd49e"/>
<path d="M425.8 191.5L429.7 190.9L431.2 192.4L434.3 196.0L439.4 197.1L443.9 197.9L444.0 202.3L441.2 204.3L439.3 207.1L439.1 209.7L431.8 212.2L427.0 208.4L425.1 209.7L424.3 209.1L421.2 208.5L422.6 207.0L424.8 206.1L424.3 205.0L422.4 202.2L420.2 201.4L418.7 200.8L416.9 201.3L413.6 202.6L409.5 202.1L407.8 200.9L408.4 199.2L408.5 197.9L411.0 195.3L409.7 193.1L412.9 191.9L416.8 192.4L421.2 193.3L423.8 193.6L425.8 191.5Z" fill="#fdd49e"/>
<path d="M397.3 151.1L396.6 152.7L393.3 152.3L393.5 153.1L390.3 154.8L389.4 157.3L387.9 157.8L388.3 160.3L386.8 161.3L387.7 162.6L384.3 163.5L384.7 168.0L386.1 168.9L385.7 171.8L384.5 172.8L383.4 174.3L382.3 175.7L375.9 178.6L368.2 176.9L368.0 167.3L379.8 155.7L395.4 145.8L414.6 146.9L414.3 149.5L411.5 151.1L411.2 149.7L409.3 148.8L406.2 149.7L406.1 151.2L404.9 152.2L400.6 151.9L397.3 151.1Z" fill="#fef0d9"/>
<path d="M383.4 174.3L384.5 172.8L385.7 171.8L386.1 168.9L384.7 168.0L384.3 163.5L387.7 162.6L386.8 161.3L388.3 160.3L387.9 157.8L389.4 157.3L390.3 154.8L393.5 153.1L393.3 152.3L396.6 152.7L397.3 151.1L403.0 153.6L403.8 157.3L404.9 158.5L403.2 160.3L399.5 165.0L398.6 170.9L399.1 174.5L396.3 181.8L389.8 184.5L386.8 183.6L386.2 181.3L383.4 178.1L382.8 175.0Z" fill="#fef0d9"/>
<path d="M404.9 158.5L403.8 157.3L403.0 153.6L397.3 151.1L400.6 151.9L404.9 152.2L406.1 151.2L406.2 149.7L409.3 148.8L411.2 149.7L411.5 151.1L411.5 153.0L414.1 154.1L413.0 156.1L415.4 158.7L415.0 160.5L416.9 162.1L416.3 163.3L419.6 165.2L415.8 169.1L414.0 170.8L410.9 172.3L404.6 173.3L400.5 170.9L399.5 165.0L403.2 160.3Z" fill="#fef0d9"/>
<path d="M418.2 220.8L419.2 219.1L418.6 218.2L420.7 217.3L422.0 217.4L424.1 217.4L432.4 216.1L437.0 215.9L443.4 218.2L450.3 218.0L451.0 218.7L453.1 218.9L455.6 219.8L456.2 222.4L458.8 223.4L457.4 224.2L458.6 226.8L460.0 230.1L454.7 230.2L449.7 231.0L445.3 230.9L442.5 231.0L442.6 232.4L441.0 233.2L440.3 234.4L434.8 233.9L428.2 233.6L422.6 232.3L420.1 229.2L418.3 226.6L417.7 222.6Z" fill="#fef0d9"/>
<path d="M446.8 213.9L452.2 214.3L455.2 215.9L458.2 215.6L461.1 217.7L462.0 219.8L458.5 219.3L455.6 219.8L453.1 218.9L451.0 218.7L449.6 217.4L447.0 214.8Z" fill="#fdd49e"/>
<path d="M455.6 219.8L458.5 219.3L460.0 220.6L461.0 222.1L462.6 223.9L462.9 225.6L462.2 225.6L458.8 223.4L456.2 222.4L455.6 219.8Z" fill="#fef0d9"/>
<path d="M458.5 219.3L462.0 219.8L461.1 217.7L463.4 219.3L464.7 219.5L465.8 217.8L469.0 218.7L472.0 222.6L469.6 226.6L468.2 226.7L466.2 225.8L466.7 224.2L465.7 223.4L462.9 225.6L462.6 223.9L461.0 222.1L460.0 220.6L458.5 219.3Z" fill="#fef0d9"/>
<path d="M441.0 233.2L442.6 232.4L442.5 231.0L445.3 230.9L449.7 231.0L454.7 230.2L452.9 231.8L452.8 234.1L452.8 237.3L448.3 240.0L444.2 242.8L441.7 241.8L441.3 240.3L441.9 239.9L443.1 237.8L442.7 236.8L441.6 236.6L440.0 235.7Z" fill="#fef0d9"/>
<path d="M441.6 236.6L442.7 236.8L443.1 237.8L441.9 239.9L441.3 240.3L440.2 240.7L439.2 238.3Z" fill="#fef0d9"/>
<path d="M440.2 240.7L441.3 240.3L441.7 241.8L441.4 242.5L441.6 244.9L441.4 246.2L440.9 250.0L440.7 250.2L438.8 245.4L437.9 242.3Z" fill="#fef0d9"/>
<path d="M440.9 250.0L441.4 246.2L441.6 244.9L441.4 242.5L441.7 241.8L444.2 242.8L448.3 240.0L449.5 243.2L449.1 243.6L444.9 244.9L447.4 247.5L446.4 248.8L444.3 250.2L443.3 250.9L440.8 250.6Z" fill="#fef0d9"/>
<path d="M448.3 240.0L452.8 237.3L452.8 234.1L452.9 231.8L454.7 230.2L460.0 230.1L461.8 233.1L463.7 233.9L462.7 236.0L462.6 238.3L464.3 240.7L467.6 242.4L468.9 244.3L468.8 246.2L469.7 247.5L471.1 249.0L471.1 249.6L469.9 249.4L469.8 248.8L468.5 248.8L466.9 251.2L462.7 250.9L456.3 246.0L452.3 243.9L449.5 243.2L448.3 240.0Z" fill="#fef0d9"/>
<path d="M466.9 251.2L468.5 248.8L469.8 248.8L471.8 250.2L472.2 252.8L471.2 252.7L469.7 252.7L469.0 251.5L466.9 251.2Z" fill="#fef0d9"/>
<path d="M440.8 250.6L443.3 250.9L444.3 250.2L446.4 248.8L447.4 247.5L444.9 244.9L449.1 243.6L449.5 243.2L452.3 243.9L456.3 246.0L462.7 250.9L466.9 251.2L469.0 251.5L469.7 252.7L471.2 252.7L473.9 254.1L477.6 256.7L477.1 260.7L477.7 262.6L478.7 263.0L479.7 263.9L479.7 264.3L482.2 267.4L488.1 268.0L488.2 268.0L489.4 269.8L488.4 275.1L481.7 277.7L475.1 278.8L473.2 280.0L470.6 283.1L466.9 282.2L462.2 281.7L461.7 283.9L461.0 284.7L456.8 283.0L448.0 269.8L440.3 256.7L439.6 252.8Z" fill="#fef0d9"/>
<path d="M479.7 263.9L478.7 263.0L477.7 262.6L476.6 260.7L478.4 257.8L480.3 260.7L480.3 263.8Z" fill="#fef0d9"/>
<path d="M488.2 268.0L488.1 268.0L482.2 267.4L479.7 264.3L479.7 263.9L480.4 262.5L485.6 262.0L488.0 259.3L489.4 259.2L489.7 260.4L490.7 261.2L490.3 262.1L489.5 262.2L489.3 264.6L488.2 268.0Z" fill="#fef0d9"/>
<path d="M489.4 259.2L490.3 257.8L490.9 260.4L489.7 260.4Z" fill="#fef0d9"/>
<path d="M488.2 268.0L489.3 264.6L489.5 262.2L490.3 262.1L491.7 262.0L500.2 267.2L497.8 277.7L489.1 284.3L485.7 285.6L484.7 283.9L481.7 277.7L488.4 275.1L489.4 269.8L488.2 268.0Z" fill="#fef0d9"/>
<path d="M481.7 277.7L475.1 278.8L473.2 280.0L470.6 283.1L466.9 282.2L462.2 281.7L461.7 283.9L461.0 284.7L459.4 288.2L462.0 296.1L466.7 296.1L482.5 289.5L485.7 285.6L484.7 283.9L481.7 277.7Z" fill="#fdd49e"/>
<path d="M458.8 223.4L462.2 225.6L462.9 225.6L465.7 223.4L466.7 224.2L466.2 225.8L468.2 226.7L470.8 227.1L474.4 229.2L478.7 228.6L479.7 229.6L481.6 229.4L482.9 228.0L486.4 227.2L489.4 228.9L491.4 229.2L494.3 231.4L495.9 231.4L496.7 234.1L495.9 237.6L496.1 239.1L497.1 239.7L497.0 243.1L497.9 244.9L499.9 245.2L500.4 246.6L498.7 249.2L501.3 252.4L503.7 253.4L504.1 256.2L505.2 257.2L502.3 258.7L502.1 261.4L498.7 263.3L491.7 262.0L490.1 257.8L482.4 259.3L474.9 252.8L472.2 249.4L471.1 249.0L469.7 247.5L468.8 246.2L468.9 244.3L467.6 242.4L464.3 240.7L462.6 238.3L462.7 236.0L463.7 233.9L461.8 233.1L460.0 230.1L458.6 226.8L457.4 224.2L458.8 223.4Z" fill="#fef0d9"/>
<path d="M498.7 249.2L500.4 246.6L499.9 245.2L497.9 244.9L497.0 243.1L497.1 239.7L496.1 239.1L495.9 237.6L496.7 234.1L500.1 235.1L503.4 232.3L505.2 229.7L507.2 229.6L510.0 230.0L513.4 230.2L515.0 228.9L515.3 227.5L517.0 227.2L518.7 231.3L520.9 230.0L523.0 229.4L525.5 229.8L524.7 230.3L520.5 230.9L519.0 232.3L519.1 237.4L516.6 238.3L517.9 240.1L515.9 240.7L516.5 243.9L513.5 245.2L510.6 246.5L510.9 249.2L506.1 250.4L502.6 250.4L498.7 249.2Z" fill="#fef0d9"/>
<path d="M496.7 234.1L495.9 231.4L494.3 231.4L491.4 229.2L489.4 228.9L486.4 227.2L482.9 228.0L481.6 229.4L479.7 229.6L476.1 226.6L473.6 220.0L474.1 218.1L478.8 217.3L480.9 219.3L481.9 219.2L483.6 217.8L484.4 217.0L486.4 215.4L489.8 216.9L490.6 219.0L494.7 219.8L496.5 222.6L501.1 225.4L506.7 227.9L507.2 229.6L505.2 229.7L503.4 232.3L500.1 235.1L496.7 234.1Z" fill="#fdd49e"/>
<path d="M507.2 229.6L506.7 227.9L501.1 225.4L496.5 222.6L494.7 219.8L490.6 219.0L489.8 216.9L486.4 215.4L484.4 217.0L483.6 217.8L481.9 219.2L479.4 209.7L484.2 208.1L490.5 211.2L493.1 213.5L499.1 213.0L502.2 214.8L502.7 217.4L503.9 217.7L507.8 219.9L509.3 220.9L509.7 219.0L513.0 216.8L515.3 218.7L518.8 220.4L516.8 221.5L513.9 222.1L513.1 220.2L510.7 220.6L509.7 222.4L509.9 223.8L507.7 223.9L508.6 225.2L510.7 227.3L510.2 227.9L510.0 230.0L507.2 229.6Z" fill="#fdd49e"/>
<path d="M510.0 230.0L510.2 227.9L510.7 227.3L508.6 225.2L507.7 223.9L509.9 223.8L509.7 222.4L510.7 220.6L513.1 220.2L513.9 222.1L513.2 223.8L517.2 224.5L521.1 224.1L522.1 226.3L524.6 226.7L525.5 229.8L523.0 229.4L520.9 230.0L518.7 231.3L517.0 227.2L515.3 227.5L515.0 228.9L513.4 230.2L510.0 230.0Z" fill="#fdd49e"/>
<path d="M513.0 216.8L513.1 215.4L518.3 216.3L519.1 214.3L522.6 215.2L530.0 215.4L532.8 216.9L529.6 219.0L526.8 220.0L525.4 221.6L522.7 221.3L521.1 224.1L517.2 224.5L513.2 223.8L513.9 222.1L516.8 221.5L518.8 220.4L515.3 218.7L513.0 216.8Z" fill="#fdd49e"/>
<path d="M464.4 206.2L462.7 205.3L458.8 202.0L457.6 200.9L458.3 195.8L461.2 196.9L463.9 192.4L471.9 194.3L478.0 194.6L482.6 195.5L486.0 194.8L482.1 191.8L483.1 189.3L482.6 186.9L490.0 185.9L495.2 184.4L501.7 186.5L507.1 188.2L506.8 187.0L512.4 186.4L516.2 188.5L523.4 194.8L529.9 194.3L535.5 197.9L540.1 199.1L539.1 199.1L537.8 201.1L538.8 204.4L533.5 204.0L533.8 208.4L534.6 209.1L530.4 209.7L533.1 214.4L532.8 216.9L530.0 215.4L522.6 215.2L519.1 214.3L518.3 216.3L513.1 215.4L513.0 216.8L509.7 219.0L509.3 220.9L507.8 219.9L503.9 217.7L502.7 217.4L502.2 214.8L499.1 213.0L493.1 213.5L490.5 211.2L484.2 208.1L479.4 209.7L481.9 219.2L480.9 219.3L478.8 217.3L474.1 218.1L471.6 216.1L467.5 212.2L467.6 208.4L465.2 207.1Z" fill="#fdd49e"/>
<path d="M541.1 199.0L541.1 198.1L544.0 197.1L548.1 194.8L552.5 195.5L559.6 197.5L560.6 195.6L559.4 191.5L567.2 193.6L568.5 195.3L574.2 195.8L577.8 196.1L583.0 198.6L587.7 199.0L591.6 197.9L593.2 196.2L598.7 197.2L599.6 202.2L604.5 202.8L609.1 204.0L610.3 205.3L605.6 206.2L603.4 208.5L600.1 210.3L596.1 209.5L596.0 211.3L598.1 213.0L595.4 215.7L590.3 216.3L586.1 218.5L578.2 216.1L574.2 215.7L566.5 215.5L562.5 211.5L557.8 209.8L552.3 209.1L550.1 204.8L544.6 201.7L541.1 199.0Z" fill="#fdd49e"/>
<path d="M639.3 216.3L637.4 216.3L634.5 217.4L635.7 218.5L632.4 218.0L631.8 220.3L629.7 222.8L631.8 226.6L635.2 229.2L636.2 228.5L637.7 227.1L640.0 226.3L639.5 222.6L640.5 218.7L639.7 216.7L639.3 216.3Z" fill="#fdd49e"/>
<path d="M640.0 226.3L637.7 227.1L636.2 228.5L635.8 230.5L639.3 238.3L647.0 238.3L646.3 231.8L641.5 226.6Z" fill="#fef0d9"/>
<path d="M502.1 261.4L502.3 258.7L505.2 257.2L504.1 256.2L503.7 253.4L501.3 252.4L498.7 249.2L502.6 250.4L506.1 250.4L510.9 249.2L510.6 246.5L513.5 245.2L516.5 243.9L515.9 240.7L517.9 240.1L516.6 238.3L519.1 237.4L519.0 232.3L520.5 230.9L524.7 230.3L525.5 229.8L526.9 231.1L529.9 233.5L533.0 234.4L531.6 236.6L525.2 236.6L525.9 239.1L529.7 242.8L528.7 246.0L527.8 248.3L526.0 251.3L524.3 254.2L521.4 254.2L519.5 256.2L521.0 257.9L521.2 260.1L523.9 263.5L518.6 263.8L517.6 265.6L515.0 267.2L507.8 263.3Z" fill="#fdd49e"/>
<path d="M517.6 265.6L518.6 263.8L523.9 263.5L521.2 260.1L521.0 257.9L519.5 256.2L521.4 254.2L524.3 254.2L526.0 251.3L527.8 248.3L528.7 246.0L529.7 242.8L525.9 239.1L525.2 236.6L531.6 236.6L533.0 234.4L536.3 237.6L538.4 242.3L536.4 242.3L537.7 244.9L540.2 246.4L543.6 248.3L542.3 252.0L545.0 253.2L550.3 255.8L553.3 255.9L556.3 257.8L559.2 258.3L561.6 258.3L560.9 254.4L562.3 254.1L562.9 255.9L563.0 257.0L565.3 257.5L570.2 257.1L570.1 255.9L568.8 254.6L569.9 254.6L571.6 253.3L573.8 251.2L576.5 251.3L578.2 250.7L581.4 253.4L581.5 256.5L579.4 256.1L577.7 259.2L576.9 261.6L576.5 265.0L574.7 264.7L574.9 269.1L573.7 269.9L572.3 265.4L571.0 267.4L569.7 265.5L571.8 263.8L572.1 262.0L566.1 261.2L564.6 259.3L562.4 258.3L561.9 259.9L562.4 263.3L564.0 263.8L565.4 269.3L565.8 270.6L563.7 273.8L551.9 290.8L549.3 302.7L542.6 309.2L527.8 280.3L517.9 272.5Z" fill="#fdd49e"/>
<path d="M560.9 254.4L556.0 254.2L553.7 252.5L549.7 250.9L545.9 247.9L543.6 248.3L542.3 252.0L545.0 253.2L550.3 255.8L553.3 255.9L556.3 257.8L559.2 258.3L561.6 258.3L560.9 254.4Z" fill="#fdd49e"/>
<path d="M568.8 254.6L566.1 253.8L564.0 253.7L562.9 255.9L563.0 257.0L565.3 257.5L570.2 257.1L570.1 255.9L568.8 254.6Z" fill="#fdbb84"/>
<path d="M565.8 270.6L565.4 269.3L564.0 263.8L562.4 263.3L561.9 259.9L562.4 258.3L564.6 259.3L566.1 261.2L572.1 262.0L571.8 263.8L569.7 265.5L571.0 267.4L572.3 265.4L573.7 269.9L573.0 271.7L573.4 273.0L571.7 273.8L567.0 273.0Z" fill="#fdd49e"/>
<path d="M573.4 273.0L573.0 271.7L573.7 269.9L574.9 269.1L574.7 264.7L576.5 265.0L576.9 261.6L577.7 259.2L579.4 256.1L581.5 256.5L581.4 253.4L584.6 255.1L585.8 259.6L583.9 261.7L584.1 264.7L586.7 264.6L588.7 267.0L588.7 269.5L591.2 271.3L593.4 271.0L591.4 274.2L590.1 274.2L586.9 275.9L586.9 279.0L585.8 278.9L589.6 285.5L589.0 287.7L591.5 291.6L592.0 294.5L593.1 296.6L591.5 300.4L591.1 301.5L588.7 302.7L586.5 290.8L582.8 288.2L578.0 286.9L573.0 275.1Z" fill="#fdbb84"/>
<path d="M591.1 301.5L591.5 300.4L593.1 296.6L592.0 294.5L591.5 291.6L589.0 287.7L589.6 285.5L585.8 278.9L586.9 279.0L586.9 275.9L590.1 274.2L591.4 274.2L592.7 276.3L594.4 276.3L594.8 281.7L596.9 279.8L598.9 279.3L601.1 279.6L603.6 284.2L605.8 286.4L606.1 289.8L605.4 289.9L600.3 290.2L599.0 292.0L600.8 297.0L598.9 298.7L595.8 295.3L595.8 304.0L598.3 307.9L600.3 310.0L599.9 311.2L597.7 312.6L595.4 310.8L592.7 311.8L589.0 306.6L589.3 301.6Z" fill="#fdbb84"/>
<path d="M605.4 289.9L606.1 289.8L605.8 286.4L603.6 284.2L601.1 279.6L598.9 279.3L596.9 279.8L594.8 281.7L594.4 276.3L592.7 276.3L591.4 274.2L593.4 271.0L594.9 272.1L595.3 268.7L597.8 271.7L600.1 272.7L602.7 275.0L600.5 276.8L603.8 278.4L607.8 283.9L609.4 285.1L610.3 286.9L610.7 289.0L607.2 289.9L605.4 289.9Z" fill="#fdd49e"/>
<path d="M600.8 297.0L599.0 292.0L600.3 290.2L605.4 289.9L607.2 289.9L610.7 289.0L611.1 293.5L611.4 295.2L609.0 296.9L609.1 298.7L607.5 297.3L606.1 298.9L604.7 300.3L602.5 301.3L600.0 298.7Z" fill="#fdbb84"/>
<path d="M595.3 268.7L599.2 268.4L602.0 266.3L605.4 267.5L606.6 270.1L609.3 271.2L610.8 275.1L608.0 279.0L614.7 285.6L617.8 296.1L613.2 304.0L605.2 306.6L603.7 301.3L604.7 300.3L606.1 298.9L607.5 297.3L609.1 298.7L609.0 296.9L611.4 295.2L611.1 293.5L610.7 289.0L610.3 286.9L609.4 285.1L607.8 283.9L603.8 278.4L600.5 276.8L602.7 275.0L600.1 272.7L597.8 271.7L595.3 268.7Z" fill="#fdd49e"/>
<path d="M595.4 310.8L597.7 312.6L599.9 311.2L604.5 314.5L607.1 322.9L605.5 324.4L603.9 324.7L597.8 321.6L594.0 314.5Z" fill="#fdd49e"/>
<path d="M598.7 197.2L601.5 198.1L603.2 196.1L602.0 190.4L599.2 188.5L605.8 187.9L610.8 189.2L620.9 197.4L628.9 199.8L631.5 202.7L634.5 202.6L638.6 200.8L639.6 205.5L640.3 209.4L637.2 208.9L636.4 209.9L639.3 213.8L639.3 216.3" fill="none"/>
<path d="M540.1 199.1L541.1 199.0" fill="none"/>
</g>
<path d="M438.8 245.4L439.3 244.8L439.7 243.5L439.9 241.5L440.2 240.7L440.8 238.6L441.6 236.6L441.0 234.4L441.0 233.2L441.5 231.5L440.0 231.5L437.9 231.0L436.0 232.7L434.2 233.1L432.3 231.7L429.4 230.9L428.9 232.4L426.0 231.4L424.0 231.0L422.2 230.5L421.5 228.1L419.4 227.1L420.7 226.7L420.0 224.5L418.7 223.9L418.6 222.8L418.2 220.8L416.1 220.2L414.7 220.3L413.4 221.1L414.7 222.2L413.9 221.9L413.4 222.8L412.6 222.0L411.5 221.1L411.0 222.6L412.3 224.5L411.9 225.2L412.9 226.2L414.6 227.3L414.7 228.8L413.7 228.0L412.4 228.1L412.9 229.4L411.9 229.0L413.2 231.9L411.6 232.1L410.6 230.5L409.8 231.0L408.8 228.8L408.2 227.1L407.3 225.4L406.0 223.6L405.5 223.4L404.1 221.7L404.0 219.3L403.7 217.8L401.7 216.3L399.7 215.1L397.2 213.5L394.4 212.0L393.6 209.7L392.6 208.9L391.6 210.2L390.8 208.4L391.1 208.0L389.7 207.9L388.1 208.6L388.4 209.9L388.4 211.7L390.9 213.3L392.1 215.6L393.7 217.2L395.0 217.7L396.9 217.7L396.4 218.7L398.6 219.8L401.0 220.9L402.2 222.4L401.9 223.2L400.9 222.0L399.3 221.5L398.1 222.4L398.1 223.7L399.5 225.2L398.3 226.0L397.4 228.0L396.4 228.0L396.4 227.3L397.3 225.8L396.5 223.9L396.0 222.5L394.6 221.9L394.2 220.9L393.0 220.6L391.5 219.5L389.4 218.9L388.5 218.1L387.1 216.7L385.8 216.1L384.7 215.0L384.2 213.5L383.7 212.2L383.1 212.1L381.2 211.2L379.5 212.5L378.3 212.8L377.2 213.4L375.6 214.6L373.8 214.1L372.2 213.8L370.9 213.4L369.5 214.2L369.0 216.0L369.5 216.7L369.1 217.8L367.2 219.0L365.1 219.8L364.2 220.8L362.5 222.8L361.9 224.1L362.9 225.9L361.4 227.1L361.0 228.8L359.0 229.7L357.9 231.1L356.0 231.1L352.9 231.3L350.8 232.7L350.3 233.1L348.8 231.7L347.5 230.0L346.4 230.0L345.3 230.5L343.0 230.5L343.4 227.9L342.6 226.7L342.0 225.9L342.4 224.3L343.4 222.1L344.0 219.6L343.7 217.7L343.6 216.4L342.8 215.1L343.5 214.3L344.8 213.8L346.0 212.9L347.8 213.4L350.5 213.3L353.0 213.8L354.5 213.5L356.2 213.9L358.7 213.9L359.3 213.4L359.9 210.6L360.1 208.4L360.0 206.7L358.8 205.8L358.1 204.3L356.7 203.2L355.5 202.7L353.6 202.5L352.8 200.9L353.3 200.3L354.5 200.2L356.4 199.9L358.4 200.3L359.3 200.3L359.2 198.9L358.6 197.6L359.9 197.6L360.3 198.5L362.1 198.6L362.7 198.1L362.9 197.6L364.7 197.0L365.6 196.3L365.7 195.0L366.2 194.4L367.6 194.1L369.2 193.4L370.5 191.9L371.5 190.7L371.9 189.4L373.2 188.8L374.7 188.3L376.3 188.4L376.7 188.7L376.5 187.8L378.2 187.5L379.2 187.9L379.6 187.0L379.9 186.5L379.3 184.5L378.6 183.1L378.1 181.8L378.1 180.5L378.9 179.1L381.4 177.9L382.6 177.5L382.6 179.4L382.3 180.4L383.5 180.8L382.2 181.5L381.8 182.6L381.3 183.1L380.9 184.7L382.0 185.7L384.2 185.8L383.8 186.9L385.1 186.8L386.2 186.3L386.9 185.7L388.6 185.2L389.5 186.5L390.5 187.0L394.2 186.2L395.7 185.2L398.1 184.7L399.0 185.9L400.8 185.7L401.4 184.4L403.1 183.6L403.2 182.6L403.1 181.7L402.8 180.6L403.3 179.4L403.6 178.4L405.4 177.5L406.7 178.5L408.2 179.4L408.7 177.3L408.8 176.1L406.8 175.5L406.5 174.0L408.8 173.4L411.1 173.0L414.9 173.4L415.6 172.6L418.0 172.2L416.4 171.6L415.3 170.9L414.0 170.8L412.3 171.0L408.9 171.6L405.4 172.4L403.8 171.1L402.0 169.9L401.9 168.5L401.2 166.4L400.8 164.7L403.2 163.3L405.2 161.7L407.4 160.2L407.0 159.1L405.7 158.7L404.9 158.5L403.1 158.6L401.5 159.0L400.6 160.3L400.1 161.0L398.9 163.1L396.8 164.5L395.1 165.9L394.1 166.5L394.0 168.0L394.2 170.4L396.6 171.4L397.7 172.3L397.9 173.5L396.2 174.9L393.9 175.5L394.2 177.5L394.0 180.2L393.4 181.3L392.6 181.5L391.0 181.6L390.2 182.9L389.4 183.3L387.6 183.3L387.4 182.9L387.0 181.7L386.5 181.1L387.2 180.2L385.9 179.1L385.1 177.7L383.9 176.1L383.6 174.7L383.4 174.3L382.4 173.8L382.4 172.3L382.0 173.8L381.7 174.4L380.5 174.7L379.1 175.8L377.6 176.6L375.9 176.9L373.8 176.0L373.0 174.7L372.2 173.5L372.0 171.8L371.8 170.6L371.6 169.5L371.6 167.8L371.8 166.8L373.6 166.1L375.3 165.0L378.0 164.0L379.7 163.4L380.7 162.1L382.1 161.2L383.8 159.1L384.7 157.5L385.5 156.6L387.4 155.0L389.1 153.5L389.8 152.6L392.1 150.9L394.4 149.8L396.8 148.9L399.2 148.3L401.9 147.5L405.1 146.6L408.1 146.7L409.1 146.7L411.8 147.5L414.4 148.3L413.0 149.6L414.3 149.5L418.1 150.2L423.4 151.0L429.2 153.2L433.4 155.3L434.4 156.9L432.4 157.7L429.0 157.8L425.3 157.3L422.5 156.6L419.9 156.4L418.6 155.5L420.9 157.1L423.1 158.5L424.4 161.5L427.9 162.8L430.5 162.8L429.5 161.7L427.7 160.1L430.8 160.6L433.2 161.2L434.5 161.3L433.4 159.6L432.5 158.9L435.1 157.8L436.1 157.0L439.4 157.5L439.2 155.9L438.0 154.6L436.1 152.0L440.1 152.6L442.0 153.8L444.8 154.4L446.1 153.9L449.2 152.7L452.4 151.5L455.2 153.0L457.1 152.3L460.2 151.8L463.9 152.3L465.0 151.2L463.8 149.4L466.7 149.7L471.4 150.7L475.8 151.5L479.0 152.8L479.4 151.5L475.1 149.7L473.4 147.5L472.8 146.2L474.4 144.7L474.0 142.9L474.7 141.6L478.0 142.2L480.5 143.4L482.6 146.4L484.1 150.1L486.9 152.3L486.6 154.6L485.9 156.4L488.8 156.9L489.7 154.6L489.7 152.8L494.9 154.1L497.6 154.4L494.7 152.6L491.2 151.2L487.6 150.8L485.3 147.9L484.2 145.1L484.3 143.2L488.3 143.6L489.9 144.7L492.4 143.6L496.2 145.3L500.1 147.3L501.6 148.6L502.6 148.4L500.6 146.9L497.6 145.1L491.8 141.5L496.3 140.7L499.8 139.2L501.5 137.8L506.2 136.4L510.6 136.2L514.3 135.4L516.4 134.6L517.9 133.4L519.3 133.0L523.7 133.8L527.1 135.2L532.9 135.0L536.6 136.0L539.2 137.4L539.5 139.5L537.5 140.5L534.6 142.2L538.5 141.3L544.1 141.3L544.9 141.3L551.3 141.3L555.7 142.6L560.3 142.8L560.6 141.1L564.1 140.7L569.2 142.2L573.3 144.1L573.8 145.1L577.6 146.9L580.6 147.3L581.2 145.8L584.2 145.6L589.1 146.2L592.4 145.8L589.9 142.9L592.4 143.2L599.8 143.9L606.1 144.3L609.9 145.8L615.2 147.2L620.3 146.6L626.2 147.3L631.3 149.7L634.2 149.9L635.7 149.8L637.9 149.6L642.9 150.1L644.1 149.5L645.3 149.5L650.5 151.2L646.3 149.0L647.6 148.8L652.7 149.4L658.2 149.7L663.5 150.3L667.5 151.3L681.1 160.3L679.8 161.2L677.7 161.0L688.6 166.6L683.9 166.1L681.6 167.8L680.4 169.7L679.5 172.2L672.1 171.1L669.8 172.3L671.0 175.7L672.6 177.4L673.8 179.4L677.0 181.3L677.3 184.3L678.1 188.5L676.1 189.3L677.1 194.3L672.2 190.5L665.2 184.3L661.8 179.4L662.0 176.9L660.7 173.3L662.5 170.9L661.5 168.5L661.2 166.1L656.0 167.8L659.1 170.6L654.8 167.5L650.2 168.3L652.3 173.3L648.9 174.5L644.3 173.2L641.3 173.5L635.7 173.5L630.6 173.7L629.3 177.4L627.8 179.9L628.9 183.1L629.5 184.8L627.0 185.3L632.1 187.0L634.7 186.3L639.7 188.5L641.9 189.3L643.9 191.3L645.0 194.3L646.6 196.9L648.2 199.4L648.3 203.2L648.2 204.5L647.2 207.6L646.8 210.2L646.8 212.8L644.2 215.4L641.0 214.6L639.9 215.9L639.7 216.7L638.7 218.2L639.7 220.3L638.9 220.8L636.8 223.2L637.4 224.7L640.0 226.3L644.3 230.5L645.8 233.0L646.2 234.9L646.0 235.5L643.9 236.2L641.0 237.3L640.2 236.4L639.7 234.1L638.4 231.3L637.7 229.3L636.2 228.5L634.1 228.1L633.2 227.6L633.3 226.0L631.8 223.9L629.7 222.8L627.2 223.7L625.0 225.5L624.6 224.2L624.4 221.6L621.5 220.3L620.1 222.9L616.9 224.7L616.6 225.4L618.9 227.6L620.9 228.6L621.5 230.0L623.8 228.8L624.6 228.3L628.8 229.4L629.3 230.9L626.3 232.6L624.8 235.7L627.8 238.3L630.5 242.0L633.7 244.5L634.4 246.5L632.6 247.9L635.7 249.2L635.9 253.3L634.2 254.4L633.3 257.8L633.1 259.6L631.8 262.8L630.6 263.4L628.6 265.9L628.0 266.4L624.4 268.0L622.8 269.1L621.3 269.3L618.1 270.6L614.9 271.9L615.0 274.3L613.6 273.8L612.9 271.2L611.6 271.3L609.3 271.2L606.4 273.0L605.1 276.4L604.9 278.2L607.5 281.7L610.2 284.3L611.9 285.3L613.9 288.2L615.1 291.9L615.2 295.3L615.0 297.7L612.8 299.5L610.8 300.4L609.8 302.7L606.8 305.0L605.8 301.9L604.7 300.3L602.4 299.8L601.1 297.7L600.8 297.0L599.3 295.6L596.2 294.4L595.7 292.4L594.8 292.2L593.7 292.7L593.8 294.8L592.5 300.0L593.0 303.4L594.9 305.5L596.3 308.7L598.7 309.5L599.9 311.2L602.3 313.4L603.3 316.6L603.5 320.5L605.3 323.9L603.6 324.2L600.8 321.8L598.4 320.0L596.7 316.6L595.9 313.4L595.4 310.8L594.0 308.7L592.5 306.9L590.8 306.6L590.6 304.0L591.1 301.5L590.6 297.4L590.7 295.0L589.3 290.8L588.0 287.7L587.1 284.3L585.8 283.0L584.2 284.3L582.1 286.1L579.7 285.6L579.7 281.7L578.8 278.5L576.8 275.6L575.1 274.7L573.4 273.0L572.5 271.4L571.7 269.1L570.5 268.3L569.2 269.1L568.5 270.1L565.8 270.6L563.8 270.9L561.6 271.4L561.1 273.1L559.4 275.6L557.5 276.9L555.5 279.6L553.9 281.1L551.9 283.8L549.6 285.9L547.4 287.4L547.5 290.3L548.2 293.2L547.4 296.4L547.6 300.6L546.1 303.2L544.0 304.5L542.6 306.4L541.1 305.3L539.4 301.5L538.0 298.1L535.6 293.7L533.5 288.7L532.6 286.9L531.1 283.0L529.5 277.9L528.9 275.1L528.8 272.2L527.9 269.3L527.2 271.9L524.8 273.1L522.9 272.5L519.8 269.3L522.3 267.5L520.3 267.7L519.1 266.7L517.6 265.6L515.6 264.6L514.3 262.5L513.4 261.2L509.8 261.2L506.4 261.4L503.7 261.7L502.1 261.6L499.8 261.2L496.1 260.9L493.3 260.3L491.2 257.2L489.5 256.3L486.7 257.6L483.2 257.0L481.0 255.4L478.4 254.5L476.6 251.7L474.8 248.8L472.0 247.8L471.1 249.0L469.8 248.8L470.0 250.4L471.2 252.7L472.7 255.1L474.4 256.7L475.9 258.3L475.8 259.6L477.7 262.6L477.4 260.7L477.8 259.1L478.4 259.0L479.4 261.2L479.6 263.0L479.7 263.9L482.0 264.2L484.0 264.3L486.0 263.4L487.8 261.3L489.4 259.2L490.0 258.4L490.4 262.0L491.5 263.8L495.7 265.6L498.7 268.4L497.0 273.8L494.8 277.7L492.0 280.6L489.4 281.7L486.9 283.0L484.7 283.9L482.8 286.6L480.1 287.7L475.8 289.5L472.3 291.6L466.6 294.0L463.1 294.4L462.5 292.7L461.6 288.7L461.0 284.7L460.3 283.2L456.7 277.5L451.9 271.2L450.1 267.2L448.9 264.3L446.8 261.7L444.9 258.7L442.6 255.9L440.3 254.0L440.8 250.6L440.7 250.2Z" fill="none"/>

<g clip-path="url(#c_hisp)"><path d="M185.0 265.0L240.0 265.0L240.0 300.0L185.0 300.0Z" fill="#fc8d59"/>
<path d="M198.3 275.4L198.2 276.9L197.3 278.8L197.8 280.2L197.5 283.0L206.1 283.0L207.0 273.8L198.4 273.8Z" fill="#fdbb84"/>
</g>
<path d="M191.6 279.4L192.5 278.6L195.5 279.2L196.5 278.9L195.9 277.5L194.5 275.6L197.2 275.8L198.2 275.9L200.6 275.6L202.4 276.0L203.9 276.9L203.0 277.5L204.9 277.9L205.7 278.8L205.0 279.8L202.1 279.2L200.6 279.8L199.3 279.8L198.4 281.4L197.8 280.2L196.0 279.8L193.2 279.8Z" fill="none"/>

<g clip-path="url(#c_tdf)"><path d="M200.0 450.0L260.0 450.0L260.0 480.0L200.0 480.0Z" fill="#fdd49e"/>
<path d="M225.8 463.4L230.2 473.4L239.0 473.4L235.0 463.4Z" fill="#fdd49e"/>
</g>
<path d="M226.5 465.0L228.0 466.7L230.1 468.4L232.6 469.7L235.3 470.0L233.2 471.0L228.9 470.7L226.5 471.4L222.8 469.7L223.2 468.4L223.8 467.4L223.3 465.9L225.0 464.9Z" fill="none"/>

<g clip-path="url(#c_irl)"><path d="M330.0 180.0L362.0 180.0L362.0 205.0L330.0 205.0Z" fill="#fef0d9"/>
<path d="M346.5 185.7L348.2 186.5L350.1 186.7L352.7 186.8L352.8 182.8L348.4 182.8L348.1 184.3L347.1 185.0Z" fill="#fef0d9"/>
</g>
<path d="M349.9 191.4L350.6 189.4L350.5 188.4L350.3 186.8L351.8 185.8L351.4 185.0L350.7 183.8L348.1 183.4L346.4 183.9L345.5 185.2L345.9 186.0L342.9 186.2L342.6 187.8L344.7 188.9L343.7 189.4L342.9 190.4L341.7 191.5L342.1 192.8L342.9 193.2L345.5 192.7L347.4 191.8L348.8 191.4Z" fill="none"/>

<g clip-path="url(#c_borneo)"><path d="M600.0 300.0L680.0 300.0L680.0 350.0L600.0 350.0Z" fill="#fdd49e"/>
<path d="M617.9 322.2L618.1 323.9L620.0 325.4L623.0 325.0L623.9 323.8L625.8 323.8L629.5 323.8L630.0 322.1L630.8 321.0L630.5 319.7L631.7 318.7L631.7 316.6L633.6 316.2L636.2 316.7L641.8 317.1L641.2 306.6L627.3 306.6Z" fill="#fdd49e"/>
<path d="M628.0 315.5L629.3 317.1L630.4 316.3L630.9 314.7L629.6 314.2Z" fill="#fdd49e"/>
</g>
<path d="M617.9 322.2L619.6 323.4L621.1 323.7L621.9 321.3L625.6 319.2L627.8 316.0L629.2 314.7L631.2 313.2L632.4 311.8L633.9 309.2L635.2 310.0L636.2 311.1L637.2 312.2L639.9 313.9L638.5 315.9L636.9 316.6L636.2 316.7L636.8 318.7L636.2 321.8L637.4 322.3L639.8 325.0L637.4 325.5L636.3 327.6L636.3 329.2L634.6 331.0L633.2 333.6L633.8 335.5L632.6 337.1L629.2 338.5L629.1 336.5L625.6 336.0L622.8 336.8L622.6 335.5L619.1 335.2L618.8 331.8L616.7 328.9L616.9 327.6L616.2 325.5L617.1 323.1Z" fill="none"/>

<g clip-path="url(#c_ng)"><path d="M640.0 320.0L730.0 320.0L730.0 360.0L640.0 360.0Z" fill="#fdd49e"/>
<path d="M690.9 332.9L690.4 344.1L689.9 345.2L690.2 345.7L689.5 353.9L714.4 359.1L716.6 332.9Z" fill="#fdbb84"/>
</g>
<path d="M668.3 329.8L671.1 328.5L674.8 329.8L675.0 332.6L675.9 336.3L676.8 336.4L679.0 335.2L680.2 333.4L682.1 332.2L683.8 331.5L686.3 332.9L690.2 334.3L690.9 334.4L694.3 336.0L697.0 336.9L698.9 337.6L701.7 341.3L703.9 343.0L704.6 343.1L706.2 344.9L704.2 345.3L704.5 347.3L706.6 350.2L707.4 351.5L709.0 351.5L710.4 354.1L712.4 354.5L710.2 355.6L705.7 354.2L703.9 352.5L701.8 348.9L699.1 347.7L698.2 347.6L696.7 348.7L695.5 349.5L694.4 351.5L692.3 351.8L689.7 351.5L687.7 349.0L685.3 349.0L683.2 349.7L682.0 349.7L684.3 346.8L685.1 345.7L683.7 342.3L683.3 341.5L681.0 340.5L679.0 339.5L676.7 339.2L674.2 338.0L673.5 337.1L671.6 338.1L671.5 338.4L669.9 335.2L669.8 335.0L673.0 334.2L674.1 333.9L671.6 333.5L670.0 332.9L667.7 331.5Z" fill="none"/>

<g clip-path="url(#c_timor)"><path d="M600.0 340.0L700.0 340.0L700.0 360.0L600.0 360.0Z" fill="#fdd49e"/>
<path d="M652.5 351.2L652.8 351.8L652.5 352.8L653.6 353.9L659.6 351.2L659.8 348.6L652.8 349.7Z" fill="#fdbb84"/>
</g>
<path d="M648.9 354.6L650.5 352.3L652.9 350.3L657.4 349.5L658.1 349.8L656.1 351.2L652.5 352.8L650.0 354.6Z" fill="none"/>

<path d="M256.7 135.4L259.6 136.6L269.5 136.8L272.4 139.5L271.9 143.0L272.1 145.8L272.4 148.4L276.6 150.1L271.3 152.3L269.4 155.9L269.2 159.1L270.2 162.1L271.2 165.0L272.6 168.5L273.9 170.2L278.8 171.8L280.7 172.6L282.9 170.9L284.9 167.3L288.6 164.5L291.7 160.3L296.6 158.7L301.4 157.3L307.7 153.5L314.7 152.6L319.4 150.8L324.9 148.8L325.9 147.9L323.2 145.1L326.8 143.6L327.3 141.5L330.1 139.5L332.1 137.4L333.5 134.8L334.8 132.4L334.8 129.6L337.9 128.7L345.5 126.5L346.3 126.2L340.1 125.5L333.2 124.9L328.1 123.8L318.9 122.9L307.7 123.3L297.6 124.1L290.1 124.9L281.6 125.0L275.3 125.8L271.7 126.7L267.4 128.2L267.8 129.4L262.7 130.2L257.3 131.3L253.6 132.1L253.9 133.4Z" fill="#fdd49e"/>
<path d="M319.4 159.1L323.3 157.1L324.6 159.1L327.0 157.8L331.0 157.5L334.6 156.9L336.9 158.0L338.5 160.1L336.1 161.9L329.2 164.0L325.7 163.5L321.8 163.1L323.3 161.7L320.0 160.5L322.8 159.8Z" fill="#fef0d9"/>
<path d="M243.6 168.3L245.0 166.1L239.6 163.3L244.9 165.2L247.4 163.8L249.5 161.5L245.2 158.0L255.5 156.6L254.8 154.6L252.0 153.5L249.0 151.2L248.2 148.4L245.3 146.4L241.3 145.1L237.8 143.2L235.7 142.8L233.9 141.1L226.9 140.9L219.1 141.5L216.0 144.3L215.3 146.9L216.0 147.9L219.5 148.8L220.9 149.3L226.0 149.0L230.5 148.6L231.1 150.1L234.2 150.6L235.3 152.8L237.3 153.7L236.9 155.7L232.6 158.5L231.6 160.8L223.0 161.2L225.1 162.1L228.9 161.7L232.3 161.9L234.2 165.0L237.2 166.1L241.0 167.5Z" fill="#fef0d9"/>
<path d="M191.4 151.2L182.8 152.3L175.3 152.1L169.3 152.1L166.4 150.8L165.8 149.0L171.3 147.7L166.9 146.4L167.6 145.1L172.5 143.0L178.6 142.0L184.9 142.8L189.6 142.2L192.7 143.0L190.0 146.4L193.8 148.6Z" fill="#fef0d9"/>
<path d="M159.3 146.6L157.0 144.7L163.6 141.1L166.0 139.9L172.6 139.7L176.3 140.5L177.0 142.0L168.1 144.7L164.1 146.0Z" fill="#fef0d9"/>
<path d="M180.6 137.8L184.0 139.5L192.8 138.6L198.2 137.4L198.7 136.4L195.9 135.0L190.2 135.8L184.4 135.6Z" fill="#fef0d9"/>
<path d="M198.7 146.0L196.3 144.3L197.2 142.6L203.2 140.7L206.5 141.3L205.9 143.2L202.6 145.3Z" fill="#fef0d9"/>
<path d="M206.9 144.3L209.9 141.1L213.9 140.3L218.4 140.9L213.7 143.0L209.7 144.7Z" fill="#fef0d9"/>
<path d="M194.8 151.2L196.4 152.3L200.3 151.7L201.2 149.7L198.2 149.3Z" fill="#fef0d9"/>
<path d="M212.6 158.2L207.0 162.1L207.7 163.5L208.5 164.7L212.7 163.3L214.8 162.8L218.4 163.3L217.5 161.5L215.0 159.8L214.7 158.2Z" fill="#fef0d9"/>
<path d="M238.7 137.4L234.5 139.5L226.6 139.5L219.1 139.0L218.5 137.4L216.2 134.6L223.2 135.2L224.8 136.6L230.6 137.0L237.0 136.8Z" fill="#fef0d9"/>
<path d="M239.3 136.0L231.8 135.8L225.1 135.6L230.4 132.8L235.3 132.4L232.6 131.5L237.0 129.6L238.6 128.2L244.8 127.8L238.6 127.0L234.0 126.2L241.3 124.9L252.3 123.8L266.3 123.6L276.4 124.5L276.4 125.3L270.7 126.2L267.1 127.0L268.7 128.4L258.9 129.6L252.1 130.5L249.5 132.4L243.9 134.4L242.0 135.6Z" fill="#fef0d9"/>
<path d="M226.8 132.1L223.4 130.0L223.5 128.7L230.5 126.7L233.3 127.8L236.1 129.1L232.3 131.1Z" fill="#fef0d9"/>
<path d="M205.6 138.4L203.2 137.2L206.1 135.4L211.0 135.2L210.5 137.2Z" fill="#fef0d9"/>
<path d="M173.0 136.0L177.0 137.0L184.9 135.2L182.4 133.8Z" fill="#fef0d9"/>
<path d="M207.6 131.9L212.3 132.8L216.3 130.9L212.4 130.0Z" fill="#fef0d9"/>
<path d="M240.6 203.0L244.3 203.0L247.9 204.8L251.0 205.0L252.9 205.4L254.2 203.0L253.0 200.7L253.0 198.6L250.2 197.1L249.4 196.3L251.6 192.8L248.3 194.3L245.3 197.9L242.9 200.4Z" fill="#fef0d9"/>
<path d="M104.3 194.8L108.2 196.1L109.4 197.9L110.2 200.9L107.7 200.4L105.6 198.4L104.2 196.6Z" fill="#fef0d9"/>
<path d="M102.0 186.3L104.0 186.8L101.4 191.3L100.9 189.3Z" fill="#fef0d9"/>
<path d="M232.0 197.1L236.6 198.4L236.7 199.1L233.6 198.4Z" fill="#fef0d9"/>
<path d="M229.4 205.3L234.2 205.9L232.8 207.1L230.2 206.6Z" fill="#fef0d9"/>
<path d="M68.3 178.1L74.5 176.0L73.1 178.1L67.8 179.9Z" fill="#fef0d9"/>
<path d="M168.7 270.2L171.2 268.0L175.0 266.8L176.9 267.1L180.4 267.5L183.6 268.9L186.3 270.9L188.9 272.2L191.1 273.3L192.9 274.4L190.5 275.4L188.6 275.2L184.6 275.5L186.0 274.2L185.1 273.4L183.6 272.5L183.3 271.2L180.2 270.6L178.9 269.7L176.0 269.3L175.6 268.8L175.0 268.0L172.1 269.3L170.9 270.1L169.7 270.4Z" fill="#fdd49e"/>
<path d="M182.7 279.6L183.8 279.0L186.0 279.3L187.5 280.3L186.0 280.7L184.0 280.7Z" fill="#fdbb84"/>
<path d="M208.2 279.4L211.9 279.3L211.9 280.1L208.2 280.5Z" fill="#fdbb84"/>
<path d="M218.9 301.2L221.0 301.1L221.2 299.2L219.6 299.5Z" fill="#fdbb84"/>
<path d="M476.6 359.1L478.1 362.6L478.8 368.0L477.2 368.2L477.3 370.1L475.9 375.2L474.2 380.1L472.9 383.4L471.5 387.5L469.0 393.4L464.7 394.8L462.3 393.2L461.8 389.0L461.0 385.9L463.8 380.9L464.4 377.5L463.5 373.5L464.9 370.1L466.8 369.6L469.2 368.8L471.1 367.8L473.1 365.9L473.2 364.6L474.1 362.9L475.5 360.4Z" fill="#fc8d59"/>
<path d="M351.0 196.7L352.0 197.0L355.1 196.3L356.7 195.1L357.6 195.6L359.9 195.3L363.0 195.0L364.4 194.6L365.3 193.9L365.4 193.3L363.7 193.2L365.1 192.0L366.0 190.5L365.1 189.4L363.2 189.4L363.2 188.8L362.8 187.8L362.1 186.5L361.3 185.5L359.8 184.3L359.4 182.8L358.6 182.3L357.7 181.8L356.1 181.8L357.5 181.1L358.5 179.0L359.1 178.1L358.7 177.7L355.8 177.7L354.5 178.1L356.7 175.5L353.1 175.4L351.5 177.9L351.6 179.4L350.6 180.1L351.7 181.8L351.2 183.6L353.0 184.3L352.7 185.2L355.7 184.5L355.5 185.5L356.6 186.8L356.6 188.3L353.8 188.3L353.1 189.8L354.4 190.5L351.9 192.0L352.3 192.7L354.1 192.9L356.1 193.2L357.1 192.9L356.5 193.8L354.1 193.8L353.4 194.4L352.3 195.8Z" fill="#fef0d9"/>
<path d="M389.5 227.9L391.4 227.3L396.2 227.1L395.3 229.2L395.5 231.4L393.0 230.2L389.5 228.4Z" fill="#fef0d9"/>
<path d="M379.9 221.1L382.1 219.4L383.4 221.3L383.2 224.9L381.9 225.2L380.6 225.4L380.5 222.9Z" fill="#fef0d9"/>
<path d="M382.4 214.8L382.8 217.2L382.1 219.0L380.8 217.7L380.7 216.1Z" fill="#fef0d9"/>
<path d="M414.1 234.4L415.5 234.4L420.2 235.1L417.4 235.9L414.3 235.1Z" fill="#fef0d9"/>
<path d="M433.4 235.6L434.9 234.8L438.3 233.9L437.0 235.7L435.1 236.8L433.7 236.4Z" fill="#fef0d9"/>
<path d="M367.7 223.8L369.2 222.9L369.9 223.4L369.1 224.5Z" fill="#fef0d9"/>
<path d="M384.0 182.6L385.6 181.6L386.9 182.6L386.2 184.1L384.3 183.8Z" fill="#fef0d9"/>
<path d="M381.5 183.1L383.2 182.9L383.5 184.1L381.9 184.2Z" fill="#fef0d9"/>
<path d="M397.1 179.4L398.5 177.2L398.4 178.6Z" fill="#fef0d9"/>
<path d="M403.9 176.2L404.9 175.2L406.2 175.5L405.8 176.4Z" fill="#fdd49e"/>
<path d="M378.1 129.6L382.1 128.9L385.7 128.7L389.4 129.3L394.2 130.7L390.6 131.5L391.2 133.4L388.5 135.2L385.3 134.4L382.7 132.6L379.6 131.5ZM389.2 128.4L394.1 127.8L401.5 128.6L397.7 130.0L391.7 129.6ZM393.8 132.1L397.6 132.1L398.7 133.4L395.0 133.6Z" fill="#fef0d9"/>
<path d="M458.1 147.8L453.8 147.5L449.0 146.2L446.6 144.7L447.2 142.6L448.4 142.0L451.8 142.2L452.6 143.6L457.6 146.9ZM449.0 141.5L449.6 138.4L452.1 136.4L459.1 135.4L466.8 134.5L464.5 136.4L458.2 138.4L455.6 140.5L453.3 142.0Z" fill="#fdd49e"/>
<path d="M503.1 130.5L507.2 130.9L510.0 130.2L505.8 128.7L501.2 128.6ZM511.7 132.1L517.4 133.0L518.9 131.9L512.9 130.2ZM495.8 127.7L498.7 126.7L502.7 127.5L499.6 128.4Z" fill="#fdd49e"/>
<path d="M577.2 137.8L576.9 136.2L581.9 136.4L588.3 137.4L587.1 138.6L581.5 139.0ZM592.1 138.0L594.8 137.6L599.0 138.4L596.9 138.8ZM587.1 141.7L588.7 140.7L593.0 142.0L590.1 142.2Z" fill="#fdd49e"/>
<path d="M427.0 127.7L433.8 127.2L438.7 128.0L430.3 128.4Z" fill="#fdd49e"/>
<path d="M657.8 146.6L658.4 145.8L660.6 147.1Z" fill="#fdd49e"/>
<path d="M662.7 218.7L664.0 219.0L665.6 221.3L668.1 223.7L669.1 227.1L668.4 228.1L669.6 230.5L670.2 233.1L671.0 233.8L670.5 235.3L669.8 236.0L668.8 234.1L668.1 235.3L668.0 236.8L666.7 235.7L666.5 236.8L663.9 236.8L663.2 235.7L664.0 237.6L662.6 239.8L660.3 238.1L660.1 236.6L658.5 236.5L657.2 237.0L654.2 237.6L651.4 238.5L650.9 237.3L651.8 237.2L653.3 234.7L654.6 234.3L656.6 234.3L658.6 233.8L660.4 233.9L659.8 232.3L660.2 230.5L661.0 229.2L660.9 230.2L661.4 231.0L663.3 230.0L663.9 227.9L664.2 225.0L662.6 222.8L662.2 221.1L661.9 219.5L663.4 220.4L663.4 219.5Z" fill="#fef0d9"/>
<path d="M651.3 238.6L653.7 240.2L654.7 241.5L654.7 244.0L654.5 245.6L653.8 246.2L652.5 245.6L651.7 243.3L650.0 242.0L649.0 240.2L650.5 239.4Z" fill="#fef0d9"/>
<path d="M654.3 240.1L656.5 241.6L657.6 239.7L659.3 240.3L659.8 238.7L659.1 237.8L657.0 238.3L655.3 238.6Z" fill="#fef0d9"/>
<path d="M660.8 218.7L662.8 218.0L660.5 216.0L661.4 216.5L662.6 215.9L667.0 217.6L666.7 216.7L667.7 215.0L669.9 213.9L667.2 211.3L665.7 212.4L661.8 210.7L658.0 208.3L657.6 208.6L659.7 211.5L660.6 214.1L658.5 214.1L659.3 215.5L659.2 216.9Z" fill="#fef0d9"/>
<path d="M657.4 207.3L657.4 205.3L660.0 207.0L658.5 205.0L656.2 203.5L655.6 202.0L657.3 199.7L653.1 198.6L651.3 195.6L649.2 192.3L646.1 189.8L644.4 188.3L642.1 186.0L641.2 186.3L642.0 188.3L644.2 190.5L644.8 191.8L647.8 194.3L650.9 198.1L653.6 202.0L655.8 205.5Z" fill="#fdd49e"/>
<path d="M637.8 261.2L639.1 262.0L638.8 264.6L638.1 268.3L638.2 270.1L636.6 268.3L635.6 265.9L636.3 263.5L636.8 262.0Z" fill="#fef0d9"/>
<path d="M615.8 274.8L616.7 276.1L615.9 278.2L613.9 279.8L611.9 279.0L611.5 277.2L612.7 275.4Z" fill="#fdd49e"/>
<path d="M547.8 302.0L548.6 301.8L551.0 305.2L552.7 308.2L552.3 310.7L549.9 312.0L548.5 311.1L548.1 309.5L547.7 306.6L548.0 304.1Z" fill="#fdd49e"/>
<path d="M639.2 279.0L642.3 279.6L642.9 279.0L643.6 282.2L643.6 284.8L642.7 286.1L643.3 288.7L644.9 290.6L646.6 290.6L648.7 291.4L649.5 293.5L649.7 294.7L647.6 293.5L645.6 291.9L646.2 292.9L643.7 291.1L642.2 291.8L641.1 291.4L640.9 289.8L641.6 289.3L640.1 288.6L638.3 284.8L639.6 285.6L639.2 281.7Z" fill="#fdd49e"/>
<path d="M653.6 301.9L655.8 305.3L656.7 308.4L655.9 311.1L654.7 309.5L654.2 312.9L651.3 311.1L651.1 308.7L649.5 307.9L646.3 309.5L646.1 307.1L648.8 305.0L650.0 306.3L652.0 305.2L652.9 304.0Z" fill="#fdd49e"/>
<path d="M650.1 294.8L652.4 294.7L653.9 298.7L652.2 299.0L650.7 297.7L651.7 296.4ZM650.7 297.7L652.1 297.9L652.9 301.1L651.8 301.1Z" fill="#fdd49e"/>
<path d="M647.3 298.9L648.7 299.2L648.6 303.2L648.0 303.8L646.4 301.6Z" fill="#fdd49e"/>
<path d="M644.7 296.4L647.6 297.4L646.7 299.6L645.2 300.2Z" fill="#fdd49e"/>
<path d="M649.9 298.1L650.0 300.0L648.7 302.8L649.0 300.0Z" fill="#fdd49e"/>
<path d="M640.5 292.2L643.3 292.4L643.6 295.3L642.6 295.6Z" fill="#fdd49e"/>
<path d="M634.7 305.7L636.3 303.2L639.0 299.8L639.3 297.8L638.4 300.3L635.9 303.2Z" fill="#fdd49e"/>
<path d="M584.2 313.0L589.3 313.8L591.3 316.0L592.3 317.8L595.1 320.0L597.3 322.1L598.7 323.1L600.8 325.0L602.5 326.0L604.4 327.6L603.6 330.2L605.7 330.4L606.8 333.6L609.3 335.5L609.0 339.4L608.7 343.0L607.4 342.0L605.8 343.1L603.3 340.5L600.5 337.6L597.7 334.2L596.3 330.1L593.4 326.9L592.5 323.0L589.8 321.3L588.8 319.2L586.2 316.7Z" fill="#fdd49e"/>
<path d="M607.0 345.5L609.0 343.1L610.9 343.6L614.3 344.0L615.0 345.3L619.1 345.8L620.6 344.4L622.9 345.7L624.5 346.5L628.3 347.9L628.3 348.6L628.6 350.6L624.9 349.4L621.4 349.4L618.0 348.3L615.3 347.8L612.7 347.8L609.7 346.9Z" fill="#fdd49e"/>
<path d="M654.2 323.4L651.4 325.0L649.1 325.1L646.7 324.8L644.4 324.2L643.9 324.2L642.6 325.2L641.8 327.2L641.5 329.3L640.7 331.5L640.4 332.9L639.4 334.7L639.1 335.7L639.4 336.9L640.7 336.8L640.9 338.1L640.3 341.1L640.5 342.3L642.7 342.3L642.7 339.9L642.7 338.1L642.4 335.5L644.3 334.6L644.5 336.8L645.5 338.4L645.9 340.3L647.1 340.5L648.5 339.2L647.9 338.0L647.3 336.5L647.5 336.0L646.5 332.9L645.5 332.6L646.7 331.9L648.6 330.1L650.0 330.2L649.9 329.3L646.7 330.0L646.0 329.8L644.6 331.3L643.8 331.3L642.8 330.0L642.2 327.6L642.8 326.3L645.1 326.3L647.9 326.3L649.2 326.3L651.4 326.5L652.8 326.3L654.0 324.7Z" fill="#fdd49e"/>
<path d="M628.4 348.9L631.2 349.5L629.9 350.7ZM631.7 349.4L633.5 349.7L632.9 351.0L631.6 350.7ZM633.7 349.7L636.6 349.1L639.0 349.9L637.3 351.0L634.1 351.2ZM640.9 349.7L644.6 349.9L648.1 349.4L647.6 350.4L642.2 350.8L640.7 350.7ZM638.5 352.3L641.4 352.5L642.7 353.9L641.0 354.6L638.6 353.1Z" fill="#fdd49e"/>
<path d="M659.6 325.0L660.4 321.8L660.7 323.9L662.3 323.7L660.7 326.3L661.9 328.9L660.5 327.6L660.0 328.4ZM660.3 336.0L664.1 335.0L667.1 335.5L666.3 337.6L662.6 336.8L660.5 336.8ZM655.9 335.7L658.7 336.0L658.4 337.6L656.1 337.1ZM674.4 342.8L675.8 342.3L675.4 345.5L674.2 345.5ZM666.9 347.3L668.6 346.5L668.2 348.6L666.8 348.6ZM652.1 332.1L654.4 332.3L653.2 332.9ZM607.8 332.1L609.9 331.8L611.2 334.4L610.7 335.7L609.2 333.9ZM613.1 334.4L614.7 334.7L614.4 336.0L613.1 335.7ZM588.7 323.9L590.6 326.0L589.4 325.2ZM592.2 330.2L593.8 332.1L592.9 332.3Z" fill="#fdd49e"/>
<path d="M692.8 355.7L693.9 359.9L694.5 365.4L696.2 364.7L697.7 367.0L697.9 372.0L698.2 376.2L698.9 378.1L701.8 380.4L703.3 383.1L705.4 386.9L705.5 389.0L706.3 390.2L708.9 393.9L708.4 397.2L708.3 399.8L707.5 402.8L704.6 407.1L702.9 410.2L698.7 414.0L696.4 416.5L694.7 418.0L691.5 421.3L688.9 425.0L688.4 426.0L683.5 427.1L678.2 430.3L676.2 428.5L675.7 428.1L672.4 429.6L668.9 428.4L666.9 427.1L666.9 424.7L667.6 421.3L665.9 421.2L666.9 419.1L667.8 414.8L664.6 419.9L665.5 417.1L668.0 413.2L665.4 416.1L661.2 419.2L660.1 418.2L659.6 414.2L659.2 412.0L656.2 411.6L654.3 410.3L649.5 410.7L644.4 412.3L642.1 412.4L638.2 414.1L635.0 416.6L631.5 416.5L627.2 416.7L621.6 419.6L617.4 419.1L616.1 417.8L616.5 415.7L618.2 415.0L619.6 411.7L620.0 407.7L620.0 405.0L619.8 403.1L619.6 400.3L618.8 396.6L620.2 393.0L620.2 390.1L621.4 388.2L621.5 386.9L622.9 384.8L624.0 385.0L625.2 384.4L629.3 381.8L633.8 380.9L637.2 379.8L641.1 377.2L643.2 374.7L643.4 372.2L645.5 370.7L646.6 373.0L647.1 370.1L649.5 368.3L650.8 367.0L653.5 364.9L655.8 363.7L658.1 366.5L661.3 366.7L662.9 363.0L664.0 360.9L665.3 360.3L668.0 359.6L669.6 357.8L667.8 357.3L671.6 358.6L675.0 359.6L677.3 359.1L679.1 359.8L676.9 362.5L676.4 364.4L674.9 366.7L677.7 369.3L682.2 372.0L683.3 373.7L686.1 373.5L688.5 369.3L688.4 368.3L689.8 364.4L690.1 360.7L691.7 357.3Z" fill="#fef0d9"/>
<path d="M672.1 434.4L675.0 435.6L679.0 434.5L679.4 435.0L677.6 437.8L674.6 440.9L671.8 441.9L670.1 441.7L670.6 438.5L671.3 435.4Z" fill="#fef0d9"/>
<path d="M742.7 418.0L743.4 417.9L744.9 420.3L744.4 422.1L743.5 424.3L745.4 423.4L745.6 424.7L745.2 426.4L746.4 427.2L749.2 426.2L750.2 426.6L748.2 428.6L746.2 430.2L743.9 430.7L742.9 432.2L739.1 435.2L735.8 436.7L735.0 435.9L737.5 433.9L738.3 432.3L737.0 430.7L739.6 429.4L741.3 427.3L742.6 424.7L742.9 423.1L742.5 420.5Z" fill="#fef0d9"/>
<path d="M732.4 433.9L731.7 435.7L734.8 435.2L733.3 437.1L730.7 438.8L726.3 441.8L726.4 442.6L721.5 444.0L717.0 447.9L713.7 449.5L710.6 449.7L709.7 448.6L708.3 447.9L711.2 445.5L715.4 443.0L721.3 440.9L725.3 438.9L727.6 437.1L730.3 434.9Z" fill="#fef0d9"/>
<path d="M707.5 342.3L711.5 340.7L715.0 340.7L717.0 338.6L716.4 340.7L713.7 343.4L710.1 344.1ZM713.7 334.4L716.4 336.3L718.6 338.9L717.7 338.1L715.3 335.5ZM722.2 341.3L724.1 343.4L724.9 345.5L723.3 344.7Z" fill="#fdbb84"/>
<path d="M726.3 345.2L728.5 346.8L727.3 346.8ZM731.8 348.6L733.6 349.7L732.4 349.7ZM733.1 352.0L735.5 353.1L733.6 353.3ZM735.7 349.7L736.8 352.5L736.0 351.2ZM736.5 354.4L738.7 356.0L737.3 355.7Z" fill="#fdbb84"/>
<path d="M747.0 366.2L747.9 368.3L746.9 368.6ZM747.9 369.6L748.7 370.9L747.8 370.9ZM749.0 373.8L749.5 374.3L748.9 374.3Z" fill="#fdbb84"/>
<path d="M737.8 380.4L740.6 382.7L743.2 386.1L741.4 385.9L738.9 383.3Z" fill="url(#hatch)" stroke="#c4c4c4"/>
<path d="M770.0 373.3L772.9 373.5L772.2 375.4L769.6 375.1ZM773.6 371.7L777.0 370.1L776.2 371.4L774.2 372.2Z" fill="#fdbb84"/>
<path d="M44.0 159.0L49.0 156.4L57.0 151.0L59.6 154.4L64.4 155.6L63.6 158.0L58.0 159.0L57.0 161.6L52.4 162.0L49.0 158.2Z" fill="#fdd49e"/>
<path d="M53.5 164.0L57.0 163.3L58.4 164.2L55.7 165.0Z" fill="#fef0d9"/>
<path d="M51.8 171.6L54.4 171.1L53.9 172.3L51.5 172.6Z" fill="#fef0d9"/>
<path d="M5.2 275.8L6.0 274.4L7.3 275.2L7.9 276.4L6.0 277.9L5.2 277.5ZM4.5 272.6L6.0 273.0L4.9 273.5ZM1.3 271.0L2.5 271.3L1.9 271.8Z" fill="#fef0d9"/>
<path d="M185.0 262.0L185.9 261.7L186.3 264.1L185.3 264.3ZM184.1 257.5L186.6 257.4L188.1 258.3L188.3 259.3L187.5 259.1L185.1 258.2ZM189.0 260.9L190.0 261.7L189.6 262.8ZM194.2 272.2L195.8 271.7L195.5 272.6Z" fill="#fdbb84"/>
<path d="M306.4 283.8L307.3 283.8L307.0 284.4ZM307.8 287.6L308.5 287.7L308.3 288.5ZM304.3 282.7L305.0 282.6L304.8 283.2ZM309.7 283.5L310.3 283.6L309.9 284.2Z" fill="#fdbb84"/>
<path d="M462.6 357.5L463.3 357.8L463.0 358.8ZM464.8 359.4L465.6 359.6L465.2 360.2Z" fill="#fc8d59"/>
<path d="M493.6 380.1L494.8 380.4L494.2 381.4Z" fill="#fdbb84"/>
<path d="M488.6 382.5L490.0 382.7L489.4 383.8Z" fill="#fef0d9"/>
<path d="M491.3 339.5L491.9 339.7L491.6 340.2Z" fill="#fdbb84"/>
<path d="M485.8 294.7L488.6 294.5L487.5 295.3Z" fill="#fdd49e"/>
<path d="M533.1 315.8L533.8 316.0L533.6 317.4Z" fill="#fdd49e"/>
<path d="M576.7 292.2L577.5 292.7L577.6 297.1L576.9 296.9ZM580.2 308.4L580.9 309.2L580.5 309.7Z" fill="#fdd49e"/>
<path d="M668.5 212.8L669.1 211.2L668.4 211.1ZM669.8 210.2L671.9 208.4L670.8 208.1ZM673.4 207.9L674.5 206.6L673.8 206.4ZM676.3 196.6L676.6 195.1L675.8 194.8Z" fill="#fdd49e"/>
<path d="M651.3 259.1L652.1 257.2L651.7 258.3Z" fill="#fef0d9"/>
<path d="M641.6 240.2L642.9 239.7L642.5 240.4Z" fill="#fef0d9"/>
<path d="M-36.9 363.0L-35.5 363.0L-35.8 363.8ZM-34.6 364.0L-33.4 364.2L-34.1 364.5Z" fill="#fdbb84"/>
<path d="M-37.9 383.0L-37.2 383.0L-37.4 383.5Z" fill="#fdbb84"/>
<path d="M412.6 225.5L414.6 226.2L415.7 227.9L414.5 226.9L413.3 226.3Z" fill="#fef0d9"/>
<path d="M423.1 232.7L424.2 231.9L423.9 232.8Z" fill="#fef0d9"/>
<path d="M418.3 224.5L419.8 224.3L419.5 225.2Z" fill="#fef0d9"/>
<path d="M66.6 145.8L69.6 146.3L67.8 147.0L64.4 147.1Z" fill="#fdd49e"/>
<path d="M424.6 219.5L422.0 217.4L420.8 216.1L421.4 214.3L422.7 212.9L422.6 211.7L424.3 209.1L425.2 207.5L426.1 205.8L427.6 205.5L429.9 206.8L432.4 206.7L430.2 208.8L432.4 210.7L433.8 211.2L436.4 209.7L438.7 209.4L440.4 209.9L441.6 210.4L444.5 212.0L446.1 213.4L446.8 213.8L449.1 214.8L450.9 217.0L451.0 218.7L447.3 220.0L444.6 220.2L442.1 219.8L439.9 219.3L437.2 217.3L434.2 217.5L431.2 218.2L429.5 219.3L427.2 219.5Z" fill="#fff"/>
<path d="M435.3 207.9L435.1 206.8L435.8 206.1L438.5 205.2L440.0 204.4L441.5 204.3L443.5 204.0L441.5 205.3L441.4 207.1L440.7 208.0L439.6 208.5L437.4 208.4Z" fill="#fff"/>
<path d="M461.2 209.1L464.0 206.1L467.8 204.8L469.8 204.6L471.9 204.8L472.7 206.3L473.0 208.9L469.5 209.1L469.0 210.7L467.9 211.2L470.2 213.2L470.8 214.6L473.3 215.4L474.6 218.0L475.4 219.8L476.1 222.6L477.8 224.5L479.7 229.6L478.0 230.7L476.0 231.5L473.7 231.1L472.0 230.0L470.1 229.2L468.3 226.8L467.9 224.7L468.9 224.2L468.7 222.1L470.5 221.7L468.4 220.8L467.2 219.3L465.8 217.8L465.1 217.2L462.9 214.8L462.2 212.8L460.2 210.7Z" fill="#fff"/>
<path d="M420.3 221.5L422.5 221.6L425.2 220.8L424.2 220.0L421.3 220.3Z" fill="#fff"/>
<path d="M196.5 299.5L197.8 301.3L197.3 303.4L195.6 303.2L195.3 301.3L196.3 299.8Z" fill="#fff"/>
<path d="M475.6 217.7L478.4 217.7L479.2 219.5L476.8 220.3L475.8 219.3Z" fill="#fff"/></g>
<g id="legend" font-family="Liberation Sans, sans-serif" font-size="13" fill="#2b2b2b">
<rect x="215.4" y="518.2" width="48.1" height="10.3" fill="url(#hatch)" stroke="#c8c8c8" stroke-width="0.7"/>
<line x1="239.5" y1="515.2" x2="239.5" y2="518.2" stroke="#c8c8c8" stroke-width="0.7"/>
<text x="239.4" y="511.1" text-anchor="middle">No data</text>
<rect x="283.00" y="518.2" width="58.96" height="10.3" fill="#fef0d9"/>
<rect x="341.66" y="518.2" width="58.96" height="10.3" fill="#fdd49e"/>
<rect x="400.32" y="518.2" width="58.96" height="10.3" fill="#fdbb84"/>
<rect x="458.98" y="518.2" width="58.96" height="10.3" fill="#fc8d59"/>
<rect x="517.64" y="518.2" width="58.96" height="10.3" fill="#e34a33"/>
<path d="M576.30 518.2H627.5L634.5 523.35L627.5 528.5H576.30Z" fill="#b30000"/>
<path d="M283.00 518.2H627.5L634.5 523.35L627.5 528.5H283.00Z" fill="none" stroke="#c0b8b0" stroke-width="0.6"/>
<g stroke="#8a8078" stroke-width="0.6"><line x1="283.00" y1="515.2" x2="283.00" y2="528.5"/><line x1="341.66" y1="515.2" x2="341.66" y2="528.5"/><line x1="400.32" y1="515.2" x2="400.32" y2="528.5"/><line x1="458.98" y1="515.2" x2="458.98" y2="528.5"/><line x1="517.64" y1="515.2" x2="517.64" y2="528.5"/><line x1="576.30" y1="515.2" x2="576.30" y2="528.5"/></g>
<text x="283.00" y="511.1" text-anchor="middle">0</text>
<text x="341.66" y="511.1" text-anchor="middle">3</text>
<text x="400.32" y="511.1" text-anchor="middle">10</text>
<text x="458.98" y="511.1" text-anchor="middle">30</text>
<text x="517.64" y="511.1" text-anchor="middle">100</text>
<text x="576.30" y="511.1" text-anchor="middle">300</text>
</g>
</svg>
<div class="foot" id="f1" style="top:548.6px;transform:scaleX(0.9634)"><b>Data source:</b> IHME, Global Burden of Disease (2025)</div>
<div class="foot" id="f2" style="top:568.6px;transform:scaleX(0.9833)"><b>Note:</b> To allow for comparisons between countries and over time, this metric is age-standardized.</div>
<div class="right" id="f3" style="transform:scaleX(0.961)">causes-of-death | CC BY</div>
</body></html>
